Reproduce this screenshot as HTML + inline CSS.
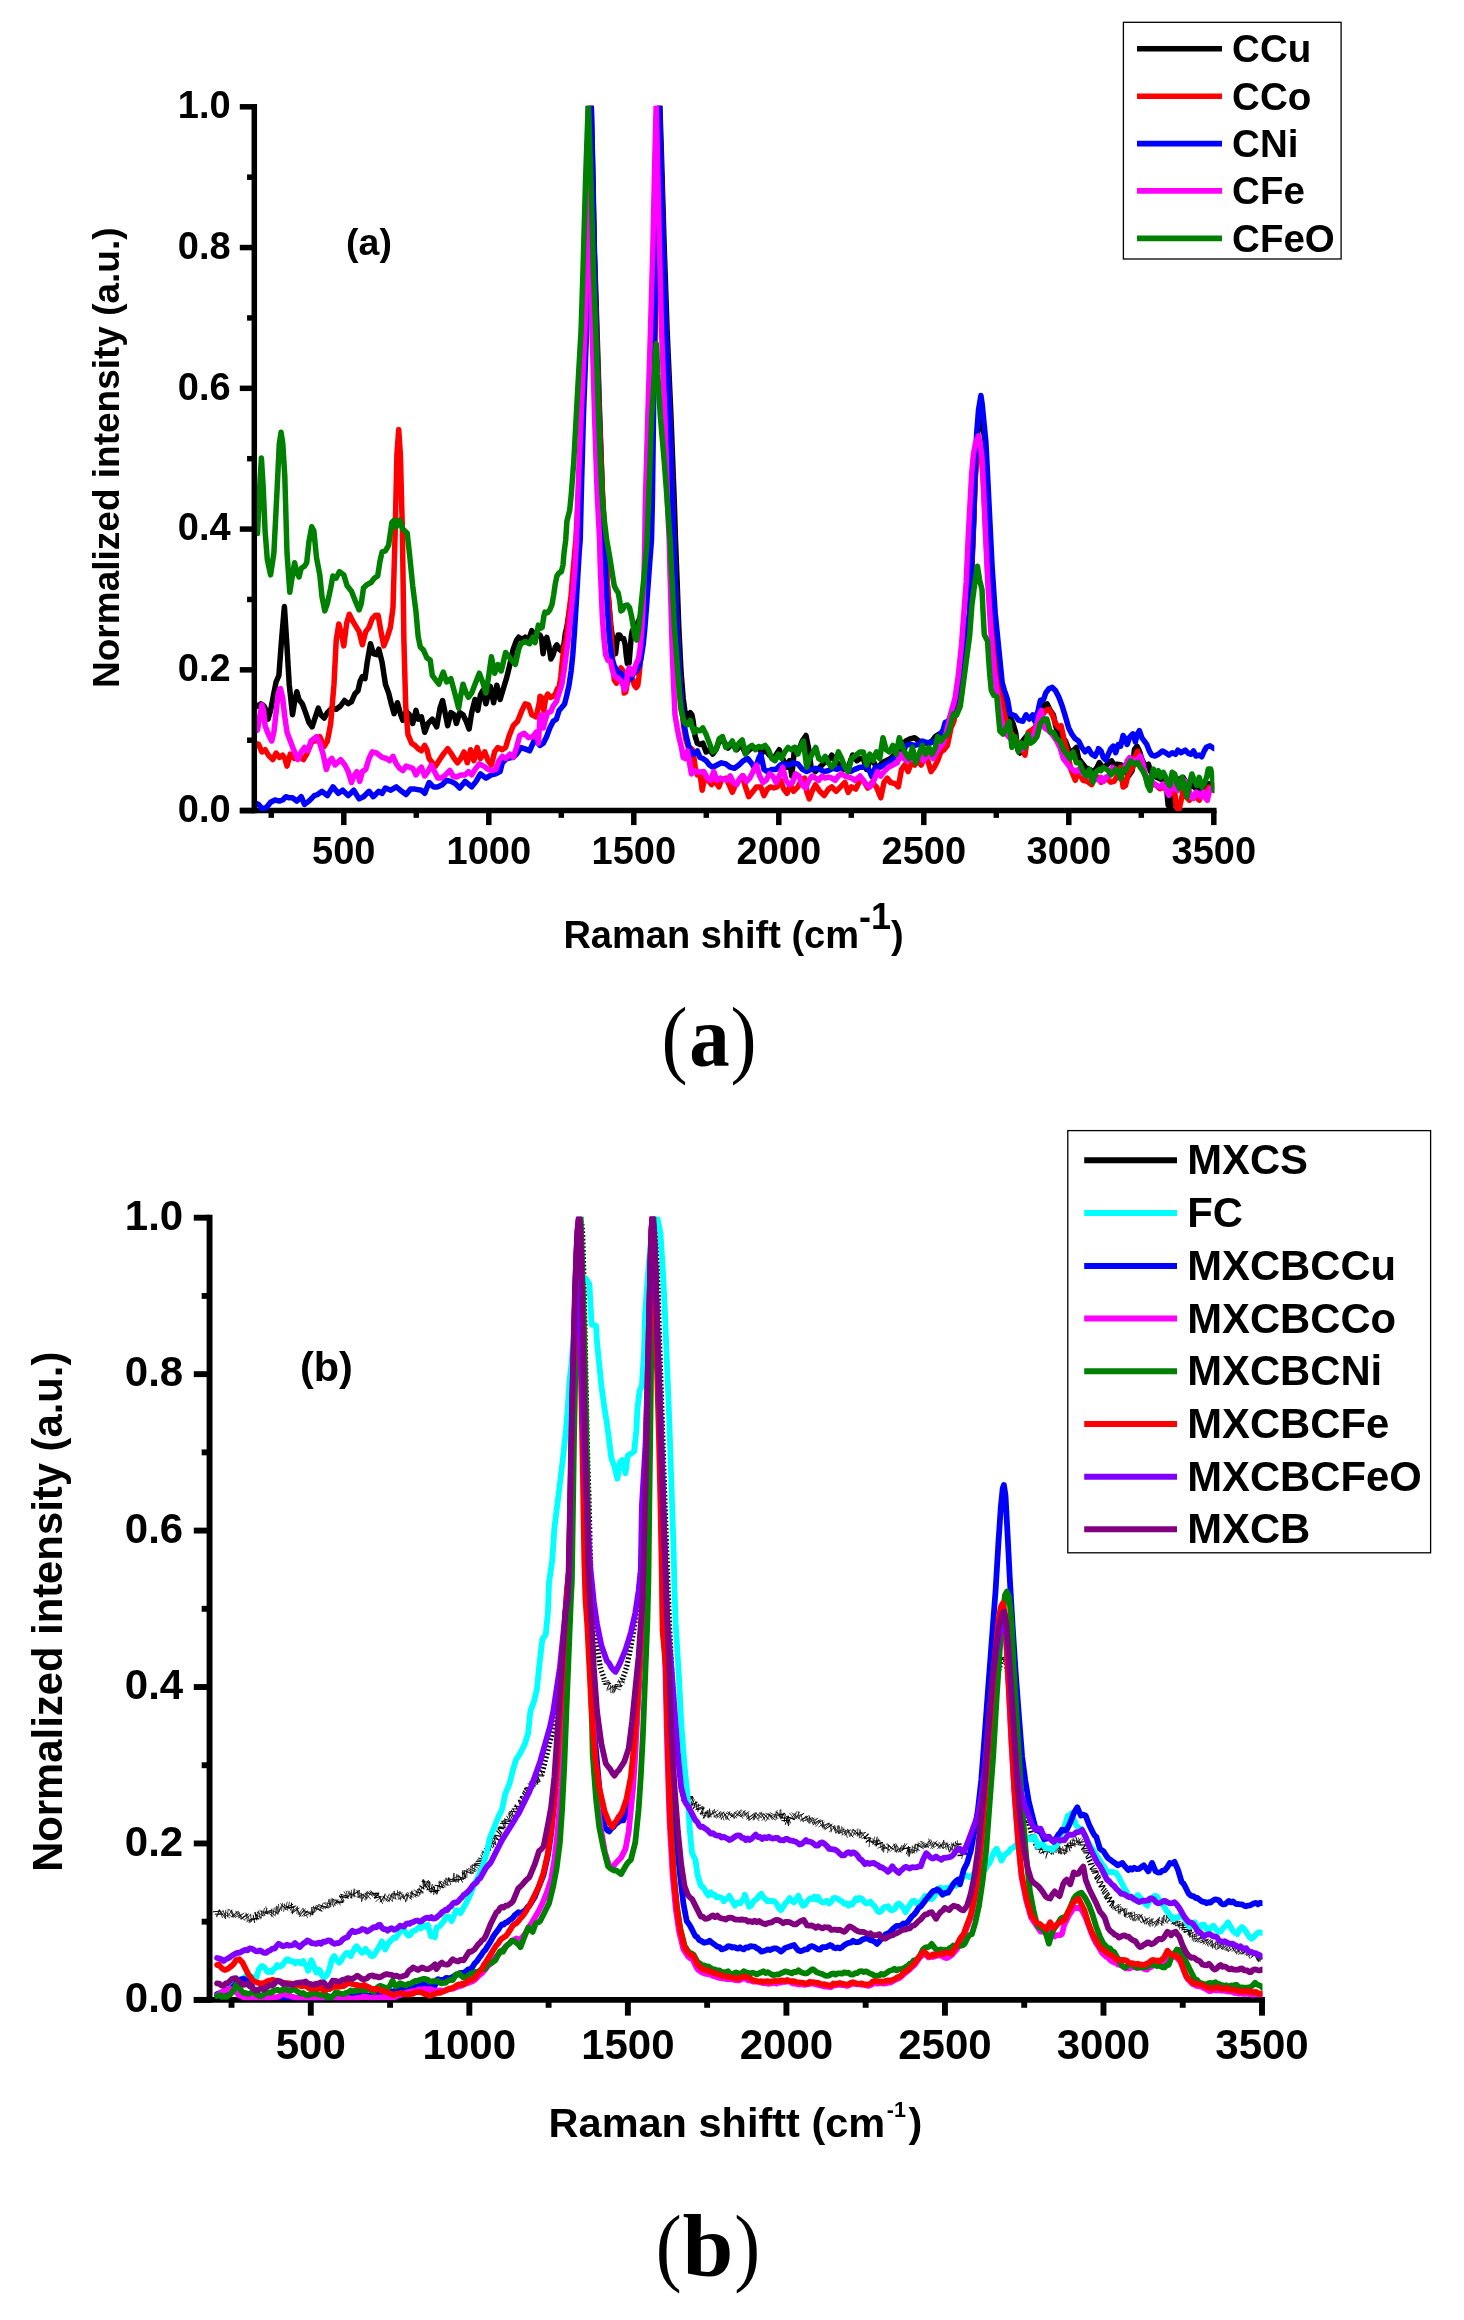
<!DOCTYPE html>
<html><head><meta charset="utf-8"><title>Raman spectra</title><style>html,body{margin:0;padding:0;background:#fff;}body{width:1464px;height:2320px;overflow:hidden;font-family:"Liberation Sans",sans-serif;}svg{display:block;will-change:transform;}</style>
</head><body>
<svg width="1464" height="2320" viewBox="0 0 1464 2320">
<rect width="1464" height="2320" fill="#fff"/>
<line x1="239.80" y1="810.6" x2="1216.55" y2="810.6" stroke="#000" stroke-width="5.5"/>
<line x1="271.30" y1="810.6" x2="271.30" y2="817.85" stroke="#000" stroke-width="5.5"/>
<line x1="343.80" y1="810.6" x2="343.80" y2="825.10" stroke="#000" stroke-width="5.5"/>
<text x="343.80" y="864.25" font-size="38" text-anchor="middle" font-family="Liberation Sans, sans-serif" font-weight="bold">500</text>
<line x1="416.30" y1="810.6" x2="416.30" y2="817.85" stroke="#000" stroke-width="5.5"/>
<line x1="488.80" y1="810.6" x2="488.80" y2="825.10" stroke="#000" stroke-width="5.5"/>
<text x="488.80" y="864.25" font-size="38" text-anchor="middle" font-family="Liberation Sans, sans-serif" font-weight="bold">1000</text>
<line x1="561.30" y1="810.6" x2="561.30" y2="817.85" stroke="#000" stroke-width="5.5"/>
<line x1="633.80" y1="810.6" x2="633.80" y2="825.10" stroke="#000" stroke-width="5.5"/>
<text x="633.80" y="864.25" font-size="38" text-anchor="middle" font-family="Liberation Sans, sans-serif" font-weight="bold">1500</text>
<line x1="706.30" y1="810.6" x2="706.30" y2="817.85" stroke="#000" stroke-width="5.5"/>
<line x1="778.80" y1="810.6" x2="778.80" y2="825.10" stroke="#000" stroke-width="5.5"/>
<text x="778.80" y="864.25" font-size="38" text-anchor="middle" font-family="Liberation Sans, sans-serif" font-weight="bold">2000</text>
<line x1="851.30" y1="810.6" x2="851.30" y2="817.85" stroke="#000" stroke-width="5.5"/>
<line x1="923.80" y1="810.6" x2="923.80" y2="825.10" stroke="#000" stroke-width="5.5"/>
<text x="923.80" y="864.25" font-size="38" text-anchor="middle" font-family="Liberation Sans, sans-serif" font-weight="bold">2500</text>
<line x1="996.30" y1="810.6" x2="996.30" y2="817.85" stroke="#000" stroke-width="5.5"/>
<line x1="1068.80" y1="810.6" x2="1068.80" y2="825.10" stroke="#000" stroke-width="5.5"/>
<text x="1068.80" y="864.25" font-size="38" text-anchor="middle" font-family="Liberation Sans, sans-serif" font-weight="bold">3000</text>
<line x1="1141.30" y1="810.6" x2="1141.30" y2="817.85" stroke="#000" stroke-width="5.5"/>
<line x1="1213.80" y1="810.6" x2="1213.80" y2="825.10" stroke="#000" stroke-width="5.5"/>
<text x="1213.80" y="864.25" font-size="38" text-anchor="middle" font-family="Liberation Sans, sans-serif" font-weight="bold">3500</text>
<clipPath id="aclip"><rect x="254.3" y="105.8" width="960.00" height="705.10"/></clipPath>
<g clip-path="url(#aclip)" fill="none" stroke-linejoin="round" stroke-linecap="round">
<polyline points="253.6,708.2 257.5,706.0 260.8,703.8 264.0,706.0 265.1,708.2 268.0,719.1 270.6,710.4 273.9,692.9 276.1,682.0 278.9,675.4 281.5,640.4 284.4,606.6 286.6,640.4 289.2,684.2 292.5,714.8 294.6,701.6 296.8,691.8 299.0,699.5 302.3,703.8 305.6,712.6 308.9,722.4 312.1,726.8 315.4,716.9 318.3,708.2 320.9,714.8 324.2,718.0 327.4,712.6 331.8,708.2 336.2,709.3 340.5,706.0 344.5,700.5 348.2,703.8 351.5,701.6 354.8,694.0 358.0,690.7 360.2,680.9 362.4,676.5 365.0,678.7 367.2,662.3 370.5,643.7 373.3,653.6 376.6,654.6 378.8,649.2 382.1,662.3 385.4,684.2 388.6,692.9 391.3,703.8 394.1,713.7 397.4,702.7 400.7,714.8 402.8,720.2 406.1,711.5 409.4,714.8 412.7,723.5 416.0,710.4 418.1,719.1 421.4,716.9 424.7,732.2 428.0,723.5 432.3,719.1 436.7,726.8 440.0,708.2 442.6,700.5 445.5,714.8 447.7,725.7 450.9,712.6 454.2,714.8 456.4,723.5 459.7,712.6 463.0,714.8 466.2,721.3 469.1,729.0 471.7,712.6 475.0,699.5 477.8,710.4 480.4,695.1 482.6,690.7 485.9,703.8 490.3,686.3 493.6,702.7 496.8,685.2 500.1,699.5 503.4,688.5 506.7,677.6 509.9,664.5 513.2,649.2 516.5,640.4 518.7,637.2 522.0,639.3 525.2,637.2 528.5,640.4 531.8,630.6 535.1,636.1 538.4,635.0 540.0,635.1 541.6,638.4 543.1,653.7 544.9,640.5 546.8,637.3 548.7,644.9 550.9,659.1 553.1,654.8 555.3,647.1 556.9,644.9 559.1,649.3 560.8,650.4 562.4,648.2 564.0,643.8 565.4,632.9 566.8,627.4 568.8,615.0 571.3,600.0 574.0,580.0 577.0,550.0 579.5,494.0 582.2,417.0 585.8,330.0 588.0,250.0 589.8,160.0 591.2,103.0 592.6,160.0 594.4,250.0 597.0,330.0 599.7,417.0 602.5,494.0 604.9,540.0 607.2,583.7 611.0,627.4 614.9,653.7 615.6,653.7 616.5,644.9 618.1,635.1 619.8,635.1 621.4,638.4 623.6,638.4 625.2,644.9 626.3,655.8 627.4,663.5 629.1,663.0 630.2,649.3 631.3,636.2 632.3,630.7 636.0,626.0 640.0,618.0 643.0,604.0 645.5,584.0 647.5,562.0 649.5,540.0 651.0,500.0 653.0,417.0 655.0,330.0 657.2,250.0 658.8,160.0 659.8,103.0 661.6,160.0 664.3,250.0 667.1,330.0 671.0,417.0 674.4,505.0 675.5,540.0 677.2,583.7 678.8,627.4 681.0,671.1 683.2,698.5 685.4,714.9 687.0,719.2 688.6,714.9 690.3,712.7 691.9,714.9 693.0,720.3 695.2,736.7 697.4,743.3 700.0,744.4 702.8,743.2 706.1,751.9 709.4,749.7 712.7,754.1 716.0,749.7 719.2,741.0 723.6,741.0 728.0,748.0 732.3,743.6 736.7,749.7 741.1,744.3 745.5,753.7 749.8,749.3 754.2,747.5 758.6,748.0 761.9,753.0 765.1,749.7 769.5,755.2 773.9,758.5 777.2,753.0 779.3,749.7 782.6,758.5 787.0,767.2 789.6,760.7 791.8,776.0 794.6,747.5 799.0,749.7 802.3,741.0 806.0,735.5 808.9,749.7 811.0,767.2 815.4,771.6 819.8,767.2 824.2,762.8 828.5,760.7 831.8,755.2 835.1,760.7 839.5,765.0 843.8,769.4 848.2,767.2 852.6,755.2 856.9,760.7 860.0,758.5 863.3,758.5 866.6,769.4 870.9,758.5 874.2,762.8 877.5,769.4 881.9,762.8 886.2,760.7 890.6,758.5 895.0,754.1 899.3,749.7 902.6,745.4 905.9,741.0 910.3,738.8 914.6,737.7 919.0,741.0 923.4,743.2 927.8,743.2 932.1,741.0 935.4,736.6 938.7,734.4 943.1,732.2 947.4,723.5 951.5,715.0 955.4,702.0 958.7,686.0 961.9,668.0 964.8,648.0 967.3,630.0 969.9,612.9 971.9,566.3 973.8,519.8 975.3,473.2 977.0,440.0 979.3,416.0 981.0,406.0 982.6,424.0 985.1,442.1 986.7,473.2 989.0,519.8 991.3,566.3 994.4,612.9 998.3,651.7 1001.4,682.8 1003.7,692.0 1006.8,703.0 1009.5,716.0 1013.0,723.5 1015.6,732.2 1017.8,749.7 1020.0,753.0 1022.8,741.0 1026.1,736.6 1030.5,732.2 1034.9,727.9 1038.1,721.3 1041.0,710.4 1044.0,704.9 1047.1,703.8 1050.2,710.4 1053.4,714.8 1055.6,725.7 1057.8,732.2 1061.1,736.6 1065.5,741.0 1068.7,749.7 1072.0,751.9 1076.4,747.5 1078.6,758.5 1081.9,762.8 1085.1,767.2 1089.5,769.4 1093.9,771.6 1097.2,767.2 1099.3,762.5 1102.6,767.4 1105.9,765.8 1109.1,762.5 1111.6,760.9 1114.1,765.0 1117.3,764.2 1121.4,765.0 1124.7,770.7 1128.8,775.6 1132.1,770.7 1134.5,749.4 1137.0,746.1 1139.4,751.0 1141.9,759.2 1145.2,765.8 1148.5,764.2 1150.1,770.7 1153.4,775.6 1156.6,777.3 1159.9,778.9 1163.2,780.5 1166.2,783.8 1168.1,805.1 1170.6,808.4 1172.2,800.2 1173.4,787.1 1176.3,782.2 1179.6,778.9 1182.9,777.3 1186.1,782.2 1189.4,787.1 1192.7,785.5 1196.0,788.7 1199.2,790.4 1202.5,787.1 1205.8,785.5 1209.1,783.8 1214.0,785.5" stroke="#000000" stroke-width="5.5" />
<polyline points="253.6,743.2 258.6,744.3 261.9,751.9 265.1,749.7 268.4,755.2 272.8,759.6 276.1,753.0 279.3,757.4 282.6,755.2 284.8,758.5 287.0,766.1 290.3,754.1 294.6,758.5 299.0,756.3 303.4,759.6 306.7,754.1 312.1,741.0 315.4,741.0 319.8,736.6 324.2,746.4 327.4,741.0 330.7,723.5 334.0,684.2 336.2,640.4 338.8,624.0 341.0,631.7 343.8,645.9 346.7,623.0 349.3,614.2 352.6,620.8 355.8,626.2 359.1,631.7 362.4,644.8 365.7,631.7 369.0,627.3 372.2,618.6 375.5,615.3 378.1,615.3 381.0,631.7 383.8,645.9 386.9,638.3 390.4,627.3 393.0,607.7 395.2,531.1 396.9,454.6 398.7,429.5 400.4,454.6 402.4,531.1 403.9,640.4 405.7,706.0 407.9,734.4 411.6,743.2 414.9,745.4 418.1,748.6 421.4,750.8 424.7,745.4 426.9,749.7 429.1,758.5 432.3,762.8 435.6,766.1 438.9,760.7 443.3,754.1 447.7,748.6 450.9,753.0 454.2,758.5 457.5,762.8 460.8,758.5 464.0,751.9 467.3,762.8 470.6,749.7 473.9,760.7 477.2,747.5 480.4,758.5 484.8,751.9 488.1,760.7 491.4,765.0 494.6,751.9 497.9,747.5 502.3,749.7 505.6,747.5 508.9,736.6 513.2,725.7 517.6,721.3 522.0,710.4 525.2,703.8 528.5,704.9 531.8,714.8 536.2,716.9 539.5,701.6 540.0,696.3 541.6,697.4 543.8,710.5 545.5,699.6 547.7,694.1 550.4,697.4 553.1,696.3 555.3,694.1 557.5,688.6 559.1,687.5 560.8,676.6 562.4,660.2 564.0,647.1 565.7,642.7 567.2,630.0 569.0,612.0 571.0,596.0 573.2,570.0 575.8,540.0 578.5,494.0 581.8,417.0 585.4,330.0 587.4,250.0 589.2,160.0 590.5,106.0 592.0,160.0 593.9,250.0 596.6,330.0 599.5,417.0 602.4,494.0 605.0,540.0 607.4,583.7 609.8,616.5 611.6,640.0 613.0,668.0 614.3,679.9 616.5,683.2 618.7,674.4 620.9,667.9 623.1,671.1 624.2,693.0 625.8,691.9 627.4,682.1 630.0,678.0 632.9,679.9 634.5,685.4 636.2,687.5 637.8,685.4 638.9,676.6 640.0,665.7 642.0,645.0 644.0,622.0 646.0,598.0 647.6,570.0 649.3,540.0 650.8,500.0 652.7,417.0 654.7,330.0 656.8,250.0 658.3,160.0 659.3,106.0 660.9,160.0 663.4,250.0 666.0,330.0 669.7,417.0 672.8,505.0 673.9,540.0 675.0,572.8 676.6,616.5 678.3,649.3 679.9,682.1 681.8,709.0 683.8,727.0 686.0,740.0 688.5,748.0 690.5,748.0 692.5,749.8 694.1,758.6 695.2,767.3 697.4,775.0 700.0,774.0 702.2,790.2 705.0,776.0 708.3,780.3 711.6,784.7 714.9,780.3 718.8,786.9 721.4,780.3 725.8,778.1 729.1,784.7 732.3,792.3 735.6,784.7 738.9,780.3 742.2,776.0 745.5,786.9 748.7,796.7 753.1,791.3 756.4,786.9 760.8,786.9 764.0,795.6 767.3,789.1 770.6,786.9 773.9,788.0 777.2,786.9 780.4,780.3 783.7,789.1 787.0,793.4 790.3,784.7 793.6,791.3 797.9,786.9 801.2,780.3 804.5,778.1 806.7,791.3 809.3,798.9 812.1,791.3 815.4,784.7 819.8,791.3 824.2,795.6 828.5,789.1 831.8,786.9 836.2,791.3 840.5,786.9 844.9,782.5 848.2,792.3 851.5,786.9 855.8,789.1 860.0,780.3 863.3,780.3 867.7,788.0 872.0,782.5 876.4,786.9 880.8,797.8 884.0,782.5 887.3,778.1 890.6,782.5 895.0,783.6 898.3,786.9 901.5,769.4 904.8,765.0 908.1,771.6 911.4,762.8 914.6,765.0 917.9,760.7 921.2,765.0 924.5,758.5 927.8,760.7 931.0,771.6 934.3,767.2 937.6,760.7 940.9,751.9 944.2,749.7 947.4,745.4 951.0,728.0 954.0,721.0 956.2,705.0 958.8,688.0 961.9,670.0 964.8,650.0 967.3,630.0 969.8,612.9 971.8,566.3 973.7,519.8 975.2,480.0 977.2,455.0 980.0,446.0 982.0,460.0 983.8,490.0 985.9,535.3 988.2,581.9 991.5,628.4 995.5,667.3 999.7,690.6 1001.7,700.0 1004.0,713.0 1006.5,722.0 1009.0,728.0 1010.8,732.2 1015.2,738.8 1019.6,745.4 1022.8,749.7 1025.0,755.2 1028.3,732.2 1031.6,730.1 1034.9,727.9 1039.2,721.3 1042.5,714.8 1045.8,710.4 1049.1,709.3 1052.3,714.8 1055.6,723.5 1058.9,727.9 1061.1,725.7 1064.4,741.0 1067.7,754.1 1070.9,769.4 1075.3,780.3 1078.6,771.6 1083.0,780.3 1087.3,781.4 1091.7,784.7 1095.0,776.0 1098.3,778.1 1098.5,777.3 1101.0,782.2 1104.2,780.5 1107.5,778.9 1110.8,782.2 1114.1,781.4 1117.3,775.6 1120.6,767.4 1123.1,787.1 1125.5,785.5 1128.0,775.6 1130.4,770.7 1132.9,767.4 1135.4,756.0 1137.8,751.0 1140.3,762.5 1142.7,767.4 1145.2,775.6 1147.6,782.2 1150.1,787.1 1153.4,783.8 1156.6,785.5 1159.9,788.7 1163.2,787.1 1166.5,790.4 1169.8,793.6 1173.0,792.0 1174.7,792.0 1176.3,806.7 1178.8,810.8 1181.2,800.2 1182.9,792.0 1186.1,796.9 1189.4,800.2 1192.7,795.3 1196.0,796.9 1199.2,800.2 1202.5,793.6 1205.8,792.0 1209.1,787.1 1214.0,790.4" stroke="#ff0000" stroke-width="5.5" />
<polyline points="253.6,802.2 258.6,804.4 261.9,808.7 266.2,807.7 270.6,802.2 275.0,800.0 279.3,801.1 282.6,800.0 285.9,796.7 289.2,797.8 292.5,797.8 296.8,801.1 301.2,796.7 304.5,804.4 308.9,801.1 314.3,795.6 317.6,794.5 322.0,791.3 327.4,795.6 332.9,786.9 338.4,793.4 342.7,790.2 348.2,795.6 353.7,790.2 359.1,798.9 363.5,796.7 369.0,791.3 373.3,796.7 378.8,791.3 382.1,793.4 385.4,788.0 390.8,790.2 396.3,786.9 401.7,791.3 406.1,794.5 410.5,789.1 414.9,789.1 421.4,790.2 424.7,793.4 429.1,782.5 433.4,786.9 437.8,786.9 442.2,784.7 446.6,780.3 450.9,781.4 455.3,783.6 459.7,788.0 465.1,781.4 471.7,786.9 476.1,781.4 480.4,773.8 485.9,778.1 491.4,774.9 495.7,773.8 500.1,771.6 502.3,762.8 506.7,758.5 513.2,757.4 516.5,754.1 520.9,747.5 524.2,748.6 529.6,750.8 534.0,741.0 537.3,742.1 540.0,745.5 543.3,743.3 546.6,736.7 549.8,728.0 553.1,721.4 556.4,719.2 559.1,710.5 561.9,707.2 564.6,703.9 566.8,695.2 569.0,685.4 571.1,671.1 572.8,654.8 574.4,632.9 576.1,605.6 577.7,578.3 579.3,550.9 580.2,540.0 581.3,494.0 583.4,417.0 586.6,330.0 588.2,250.0 589.8,170.0 591.2,103.0 592.6,170.0 594.2,250.0 596.3,330.0 598.8,417.0 601.5,494.0 604.0,540.0 605.6,572.8 607.2,605.6 609.4,638.4 611.6,658.0 614.3,665.7 616.5,670.1 618.7,672.2 620.9,673.3 623.1,676.6 625.2,678.8 630.7,678.8 632.9,674.4 636.2,671.1 638.9,666.8 641.1,658.0 643.3,643.8 644.9,627.4 646.6,605.6 648.2,583.7 649.8,561.9 651.5,540.0 652.4,500.0 653.5,417.0 654.4,330.0 656.6,250.0 658.2,160.0 659.3,103.0 661.0,160.0 663.5,250.0 666.0,330.0 669.8,417.0 672.8,505.0 673.9,540.0 675.0,572.8 676.6,616.5 678.3,649.3 679.9,682.1 682.1,709.4 684.3,725.8 686.4,736.7 688.6,745.5 690.8,750.9 693.0,754.2 695.2,753.1 697.4,750.9 700.0,757.5 702.8,758.5 706.1,760.7 709.4,765.0 712.7,767.2 717.0,765.0 721.4,762.8 725.8,763.9 730.2,767.2 734.5,768.3 738.9,765.0 743.3,760.7 747.7,758.5 752.0,763.9 755.3,769.4 758.6,758.5 760.8,754.1 764.0,769.4 767.3,771.6 771.7,769.4 776.1,769.4 780.4,765.0 784.8,763.9 789.2,765.0 793.6,762.8 797.9,763.9 802.3,769.4 806.7,771.6 811.0,769.4 815.4,768.3 819.8,769.4 824.2,771.6 828.5,770.5 832.9,768.3 837.3,769.4 841.6,767.2 846.0,769.4 850.4,771.6 854.8,769.4 860.0,767.2 863.3,767.2 866.6,765.0 869.8,771.6 872.0,777.0 875.3,767.2 879.7,767.2 884.0,765.0 888.4,762.8 892.8,758.5 896.1,756.3 899.3,758.5 902.6,754.1 905.9,745.4 910.3,744.3 914.6,745.4 919.0,744.3 922.3,741.0 925.6,742.1 929.9,743.2 934.3,741.0 938.7,736.6 943.1,730.1 945.2,722.4 948.5,721.3 951.8,712.6 955.1,701.6 958.4,686.0 961.6,668.0 964.5,648.0 967.0,630.0 969.6,612.9 971.6,566.3 973.5,519.8 975.0,473.2 976.6,434.3 978.5,410.0 980.9,395.5 982.3,405.0 983.6,418.8 985.9,442.1 987.5,473.2 989.8,519.8 992.1,566.3 995.2,612.9 999.1,651.7 1002.2,682.8 1004.5,690.6 1007.6,699.9 1010.0,713.9 1015.2,715.8 1018.5,720.2 1022.8,721.3 1026.1,714.8 1029.4,719.1 1032.7,714.8 1034.9,721.3 1038.1,710.4 1040.3,700.5 1043.6,699.5 1045.8,692.9 1049.1,688.5 1052.3,687.4 1055.6,690.7 1058.9,697.3 1062.2,706.0 1065.5,716.9 1068.7,727.9 1072.0,734.4 1075.3,738.8 1078.6,741.0 1081.9,747.5 1085.1,751.9 1088.4,748.6 1091.7,754.1 1095.0,756.3 1098.3,749.7 1098.5,748.6 1101.0,751.0 1103.4,757.6 1105.9,760.1 1108.3,754.3 1110.8,748.6 1113.2,746.1 1115.7,752.7 1118.2,744.5 1120.6,746.1 1123.1,735.5 1125.5,739.6 1127.2,744.5 1129.6,737.1 1132.9,733.8 1135.4,742.0 1137.0,734.7 1139.4,730.6 1141.9,737.9 1144.4,741.2 1146.8,744.5 1149.3,751.0 1151.7,755.1 1155.0,756.0 1158.3,754.3 1162.4,751.0 1165.7,752.7 1168.9,755.1 1172.2,752.7 1175.5,754.3 1177.9,750.2 1181.2,752.7 1185.3,750.2 1188.6,753.5 1191.0,754.3 1193.5,751.0 1196.0,756.0 1199.2,755.1 1201.7,756.8 1204.2,751.0 1206.6,747.0 1209.9,745.8 1214.0,748.6" stroke="#0000ff" stroke-width="5.5" />
<polyline points="253.6,732.2 257.5,730.1 259.7,716.9 261.9,704.9 263.6,710.4 265.1,725.7 268.4,734.4 271.7,741.0 273.9,732.2 276.1,712.6 278.3,692.9 280.4,688.5 282.6,697.3 284.8,716.9 287.0,732.2 290.3,741.0 293.6,749.7 297.9,759.6 301.2,751.9 304.5,747.5 307.8,750.8 311.0,741.0 316.5,736.6 319.8,743.2 323.1,754.1 326.3,769.4 329.6,760.7 331.8,758.5 335.1,765.0 340.5,759.6 344.9,765.0 348.2,771.6 351.5,782.5 353.7,776.0 356.9,771.6 359.8,781.4 362.4,771.6 365.7,769.4 369.0,758.5 372.2,751.9 376.6,753.0 382.1,757.4 386.4,758.5 389.7,760.7 393.0,756.3 396.3,763.9 399.6,768.3 402.8,770.5 406.1,766.1 409.4,767.2 412.7,768.3 416.0,774.9 419.2,769.4 421.4,767.2 424.7,776.0 428.0,771.6 431.3,765.0 434.5,771.6 437.8,778.1 441.1,778.1 445.5,774.9 449.8,770.5 453.1,776.0 456.4,777.0 460.8,774.9 465.1,774.9 468.4,771.6 471.7,774.9 475.0,769.4 479.3,763.9 483.7,766.1 488.1,769.4 492.5,770.5 495.7,769.4 499.0,760.7 502.3,756.3 505.6,758.5 509.9,754.1 513.2,757.4 516.5,747.5 519.8,735.5 524.2,733.3 528.5,737.7 532.9,736.6 536.2,732.2 538.4,743.2 540.0,717.0 541.6,714.9 543.3,728.0 545.5,719.2 547.7,712.7 550.9,711.6 553.1,706.1 556.4,701.7 559.1,693.0 561.9,684.3 564.0,671.1 566.2,654.8 568.4,638.4 570.6,616.5 572.8,594.6 575.0,567.3 576.6,540.0 577.9,494.0 581.1,417.0 585.0,330.0 586.5,250.0 587.6,160.0 588.3,103.0 589.0,160.0 590.2,250.0 592.1,330.0 594.6,417.0 597.2,494.0 599.6,540.0 600.1,561.9 601.2,589.2 602.3,616.5 603.9,638.4 605.6,654.8 607.8,660.2 610.5,661.3 612.1,669.0 614.3,675.5 616.5,677.7 618.7,678.8 620.9,681.0 623.1,685.4 624.7,689.7 626.3,685.4 627.4,673.3 629.1,667.9 630.7,669.0 632.3,674.4 634.0,671.1 636.2,663.5 638.4,659.1 640.0,649.3 641.6,632.9 642.8,611.0 643.6,589.2 644.2,567.3 644.8,540.0 645.3,505.0 647.8,417.4 650.5,330.0 652.8,250.0 654.8,160.0 656.2,103.0 657.5,160.0 659.5,250.0 661.5,330.0 664.9,417.0 667.5,505.0 669.2,540.0 670.0,572.8 671.0,605.6 672.2,649.3 673.5,682.1 675.0,714.9 677.2,728.0 679.3,738.9 681.5,747.7 683.2,757.5 685.4,758.6 687.5,750.9 689.7,764.0 691.4,773.9 694.1,770.6 696.3,771.7 700.0,772.0 703.9,771.6 707.2,778.1 710.5,780.3 713.8,771.6 717.0,780.3 720.3,778.1 723.6,779.2 726.9,780.3 730.2,776.0 733.4,782.5 736.7,784.7 740.0,778.1 743.3,776.0 746.6,781.4 749.8,778.1 753.1,771.6 756.4,765.0 759.7,776.0 763.0,782.5 766.2,780.3 769.5,773.8 772.8,776.0 776.1,782.5 779.3,776.0 782.6,767.2 785.9,780.3 789.2,784.7 792.5,782.5 795.7,773.8 799.0,776.0 802.3,784.7 805.6,788.0 808.9,780.3 812.1,776.0 815.4,778.1 818.7,780.3 822.0,776.0 825.2,778.1 828.5,777.0 831.8,778.1 835.1,780.3 838.4,776.0 841.6,773.8 844.9,776.0 848.2,777.0 851.5,778.1 854.8,780.3 860.0,776.0 863.3,780.3 866.6,784.7 869.8,786.9 873.1,782.5 877.5,771.6 880.8,776.0 884.0,771.6 888.4,767.2 892.8,765.0 897.2,762.8 900.4,754.1 903.7,758.5 907.0,760.7 911.4,758.5 915.7,760.7 920.1,754.1 923.4,760.7 926.7,756.3 929.9,754.1 933.2,758.5 936.5,751.9 939.8,747.5 943.1,743.2 946.3,732.2 949.6,719.1 950.6,713.9 955.0,698.3 958.4,675.0 961.6,644.0 963.9,612.9 966.2,581.9 968.3,535.3 970.0,504.2 971.7,473.2 973.4,454.5 975.5,443.0 978.4,435.9 980.3,444.0 982.0,457.6 983.6,488.7 985.6,535.3 987.8,581.9 990.6,628.4 993.7,667.3 996.8,690.6 999.0,705.0 1001.0,718.0 1004.3,732.2 1008.6,736.6 1013.0,741.0 1017.4,747.5 1021.7,749.7 1026.1,743.2 1030.5,741.0 1034.9,732.2 1039.2,714.8 1041.4,710.4 1044.7,727.9 1048.0,730.1 1052.3,734.4 1056.7,741.0 1060.0,747.5 1063.3,758.5 1066.6,762.8 1069.8,767.2 1075.3,771.6 1078.6,769.4 1083.0,773.8 1087.3,776.0 1091.7,778.1 1096.1,779.2 1099.3,780.3 1101.0,777.3 1103.4,781.4 1105.9,777.3 1109.1,775.6 1112.4,767.4 1115.7,769.1 1119.0,772.3 1122.2,770.7 1124.7,767.4 1127.2,760.9 1129.6,757.6 1132.1,759.2 1135.4,760.9 1137.8,759.2 1140.3,756.0 1142.7,762.5 1145.2,775.6 1147.6,777.3 1150.9,780.5 1154.2,783.8 1156.6,785.5 1159.9,787.1 1163.2,783.8 1166.5,790.4 1168.9,795.3 1171.4,783.8 1174.7,788.7 1177.9,790.4 1181.2,783.8 1184.5,780.5 1187.0,783.8 1191.0,796.9 1193.5,798.6 1196.0,792.0 1198.4,793.6 1200.9,796.9 1203.3,792.0 1205.8,798.6 1207.4,800.2 1209.9,788.7 1214.0,788.7" stroke="#ff00ff" stroke-width="5.5" />
<polyline points="253.6,533.3 257.5,533.3 259.7,487.4 261.4,457.9 263.2,487.4 265.1,531.1 267.3,559.6 270.6,574.9 273.9,553.0 277.2,487.4 279.3,443.7 281.1,432.3 282.8,443.7 284.8,476.5 287.0,553.0 289.8,592.3 292.5,574.9 294.6,562.8 296.8,572.7 299.0,577.0 301.2,568.3 304.5,566.1 306.7,562.8 308.9,542.1 311.7,526.8 313.9,531.1 316.5,557.4 319.8,574.9 322.0,596.7 324.8,610.9 327.4,603.3 330.7,588.0 332.9,576.0 336.2,578.1 339.5,571.6 343.8,574.9 347.1,585.8 351.5,591.3 355.8,602.2 359.1,609.8 361.3,603.3 363.5,588.0 366.8,584.7 371.1,582.5 374.4,578.1 377.7,576.0 379.9,561.7 382.1,551.9 385.4,550.8 388.6,545.4 391.9,522.4 394.1,520.2 396.3,526.8 399.6,520.2 402.8,529.0 407.2,533.3 409.4,553.0 412.7,585.8 416.0,612.0 418.1,636.1 420.3,647.0 423.6,650.3 426.9,657.9 430.2,660.1 432.3,675.4 435.6,679.8 438.9,684.2 441.1,677.6 443.3,672.1 446.6,682.0 450.9,678.7 455.3,695.1 458.6,708.2 460.8,695.1 463.0,684.2 466.2,692.9 468.4,697.3 471.7,692.9 475.0,684.2 479.3,673.2 482.6,682.0 485.9,692.9 488.1,679.8 491.4,656.8 494.6,673.2 497.9,664.5 501.2,671.0 505.6,652.5 509.9,657.9 515.4,664.5 518.7,649.2 520.9,643.7 525.2,641.5 529.6,643.7 532.9,637.2 535.1,642.6 538.4,625.1 540.0,628.5 542.2,627.4 543.8,616.5 544.9,612.1 547.7,612.7 549.8,609.9 552.0,604.5 553.7,594.6 555.3,583.7 556.9,576.1 559.1,572.8 561.3,571.7 563.0,565.1 564.0,553.1 565.7,540.0 566.9,521.3 569.7,510.3 571.3,493.9 573.8,461.1 576.2,417.4 578.6,373.7 581.1,330.0 583.0,270.0 585.5,182.0 587.3,130.0 588.3,103.0 589.3,130.0 591.0,182.0 593.4,270.0 595.7,330.0 597.2,373.7 598.6,417.4 600.3,461.1 601.9,493.9 603.8,515.8 606.7,540.0 608.3,548.7 610.5,561.9 612.7,576.1 614.3,585.9 616.5,590.3 618.1,592.5 619.8,601.2 620.9,611.0 622.5,609.9 624.7,605.6 627.4,605.0 629.6,607.8 631.6,616.5 633.4,627.4 635.1,637.3 636.7,640.0 638.4,630.7 640.0,616.5 641.6,600.1 643.3,583.7 644.9,567.3 646.8,545.0 648.4,505.0 650.0,461.0 651.6,417.4 654.4,373.7 655.5,352.0 656.2,343.5 656.9,352.0 657.7,373.7 660.4,417.4 664.2,461.1 667.5,504.9 670.1,540.0 671.1,561.9 672.2,583.7 673.3,605.6 674.4,627.4 676.1,649.3 677.7,671.1 679.3,693.0 681.0,709.4 683.2,719.2 685.4,723.6 687.5,724.7 690.3,720.3 692.5,728.0 694.1,732.3 695.7,729.1 697.9,730.2 700.0,730.7 702.8,727.9 706.1,734.4 709.4,743.2 712.7,751.9 716.0,749.7 719.2,738.8 722.5,736.6 725.8,747.5 729.1,745.4 732.3,741.0 735.6,749.7 738.9,743.2 742.2,739.9 745.5,754.1 748.7,747.5 752.0,745.4 755.3,749.7 758.6,746.4 761.9,747.5 765.1,745.4 768.4,749.7 771.7,758.5 775.0,760.7 778.3,754.1 781.5,758.5 784.8,751.9 788.1,747.5 791.4,749.7 794.6,747.5 797.9,754.1 801.2,745.4 803.4,741.0 806.7,767.2 809.9,758.5 813.2,751.9 815.8,747.5 818.7,758.5 822.0,760.7 825.2,756.3 828.5,762.8 831.8,767.2 835.1,762.8 838.4,751.9 841.6,758.5 844.9,767.2 848.2,771.6 851.5,758.5 855.8,755.2 860.0,751.9 863.3,751.9 866.6,765.0 869.8,754.1 873.1,760.7 876.4,751.9 879.7,758.5 883.0,737.7 886.2,749.7 889.5,751.9 892.8,745.4 896.1,754.1 899.3,737.7 902.6,747.5 905.9,754.1 909.2,758.5 912.5,747.5 915.7,762.8 919.0,754.1 922.3,745.4 925.6,754.1 928.9,747.5 932.1,754.1 935.4,747.5 937.6,736.6 940.9,741.0 944.2,736.6 947.4,734.4 950.2,726.3 953.3,713.9 956.4,715.4 960.3,706.1 963.4,682.8 966.5,659.5 969.6,636.2 971.9,605.2 975.0,581.9 977.4,566.3 979.7,580.3 982.0,589.6 983.1,612.9 984.3,634.7 987.5,640.9 988.7,659.5 989.8,675.0 991.3,690.6 993.7,695.2 996.8,696.8 998.3,713.9 999.9,731.0 1003.0,734.1 1006.1,727.9 1009.2,721.7 1011.9,747.5 1015.2,736.6 1018.5,751.9 1021.7,743.2 1025.0,747.5 1027.9,734.4 1030.5,743.2 1033.8,741.0 1037.0,736.6 1040.3,723.5 1043.6,719.1 1046.9,719.1 1050.2,732.2 1053.4,732.2 1056.7,738.8 1060.0,741.0 1063.3,749.7 1066.6,754.1 1069.8,758.5 1073.1,751.9 1076.4,762.8 1079.7,762.8 1083.0,771.6 1086.2,776.0 1089.5,769.4 1092.8,782.5 1096.1,771.6 1099.3,769.4 1101.0,770.7 1103.4,767.4 1105.9,769.1 1108.3,770.7 1110.8,774.8 1113.2,772.3 1115.7,769.1 1118.2,770.7 1120.6,778.9 1123.1,769.1 1125.5,770.7 1128.0,765.8 1130.4,760.9 1132.9,762.5 1135.4,764.2 1137.8,762.5 1140.3,767.4 1142.7,770.7 1145.2,775.6 1147.6,785.5 1150.1,790.4 1151.7,775.6 1153.4,769.1 1155.8,775.6 1158.3,770.7 1160.7,777.3 1163.2,772.3 1165.7,777.3 1167.3,782.2 1169.8,785.5 1172.2,772.3 1174.7,774.0 1177.1,783.8 1179.6,788.7 1182.0,777.3 1184.5,785.5 1187.0,796.9 1189.4,783.8 1191.9,774.0 1194.3,780.5 1196.8,785.5 1199.2,777.3 1201.7,787.1 1204.2,783.8 1206.6,777.3 1208.3,769.1 1210.7,769.1 1212.3,777.3 1214.0,790.4" stroke="#008000" stroke-width="5.5" />
</g>
<line x1="254.3" y1="104.05" x2="254.3" y2="813.35" stroke="#000" stroke-width="5.5"/>
<line x1="239.80" y1="810.60" x2="254.3" y2="810.60" stroke="#000" stroke-width="5.5"/>
<text x="230.6" y="821.95" font-size="38" text-anchor="end" font-family="Liberation Sans, sans-serif" font-weight="bold">0.0</text>
<line x1="247.05" y1="740.22" x2="254.3" y2="740.22" stroke="#000" stroke-width="5.5"/>
<line x1="239.80" y1="669.84" x2="254.3" y2="669.84" stroke="#000" stroke-width="5.5"/>
<text x="230.6" y="681.19" font-size="38" text-anchor="end" font-family="Liberation Sans, sans-serif" font-weight="bold">0.2</text>
<line x1="247.05" y1="599.46" x2="254.3" y2="599.46" stroke="#000" stroke-width="5.5"/>
<line x1="239.80" y1="529.08" x2="254.3" y2="529.08" stroke="#000" stroke-width="5.5"/>
<text x="230.6" y="540.43" font-size="38" text-anchor="end" font-family="Liberation Sans, sans-serif" font-weight="bold">0.4</text>
<line x1="247.05" y1="458.70" x2="254.3" y2="458.70" stroke="#000" stroke-width="5.5"/>
<line x1="239.80" y1="388.32" x2="254.3" y2="388.32" stroke="#000" stroke-width="5.5"/>
<text x="230.6" y="399.67" font-size="38" text-anchor="end" font-family="Liberation Sans, sans-serif" font-weight="bold">0.6</text>
<line x1="247.05" y1="317.94" x2="254.3" y2="317.94" stroke="#000" stroke-width="5.5"/>
<line x1="239.80" y1="247.56" x2="254.3" y2="247.56" stroke="#000" stroke-width="5.5"/>
<text x="230.6" y="258.91" font-size="38" text-anchor="end" font-family="Liberation Sans, sans-serif" font-weight="bold">0.8</text>
<line x1="247.05" y1="177.18" x2="254.3" y2="177.18" stroke="#000" stroke-width="5.5"/>
<line x1="239.80" y1="106.80" x2="254.3" y2="106.80" stroke="#000" stroke-width="5.5"/>
<text x="230.6" y="118.15" font-size="38" text-anchor="end" font-family="Liberation Sans, sans-serif" font-weight="bold">1.0</text>
<text transform="translate(119,457.7) rotate(-90)" font-size="37" text-anchor="middle" font-family="Liberation Sans, sans-serif" font-weight="bold">Normalized intensity (a.u.)</text>
<text x="563.4" y="948" font-size="38" font-family="Liberation Sans, sans-serif" font-weight="bold">Raman shift (cm<tspan dy="-18.7" font-size="36">-1</tspan><tspan dy="18.7" font-size="38">)</tspan></text>
<text x="346.1" y="254.75" font-size="37.5" font-family="Liberation Sans, sans-serif" font-weight="bold">(a)</text>
<rect x="1123.4" y="22.3" width="217.7" height="236.7" fill="#fff" stroke="#000" stroke-width="1.3"/>
<line x1="1137" y1="48.8" x2="1222" y2="48.8" stroke="#000000" stroke-width="5.6"/>
<text x="1232.1" y="62.3" font-size="38.5" font-family="Liberation Sans, sans-serif" font-weight="bold">CCu</text>
<line x1="1137" y1="96.3" x2="1222" y2="96.3" stroke="#ff0000" stroke-width="5.6"/>
<text x="1232.1" y="109.8" font-size="38.5" font-family="Liberation Sans, sans-serif" font-weight="bold">CCo</text>
<line x1="1137" y1="143.6" x2="1222" y2="143.6" stroke="#0000ff" stroke-width="5.6"/>
<text x="1232.1" y="157.1" font-size="38.5" font-family="Liberation Sans, sans-serif" font-weight="bold">CNi</text>
<line x1="1137" y1="190.9" x2="1222" y2="190.9" stroke="#ff00ff" stroke-width="5.6"/>
<text x="1232.1" y="204.4" font-size="38.5" font-family="Liberation Sans, sans-serif" font-weight="bold">CFe</text>
<line x1="1137" y1="238.4" x2="1222" y2="238.4" stroke="#008000" stroke-width="5.6"/>
<text x="1232.1" y="251.9" font-size="38.5" font-family="Liberation Sans, sans-serif" font-weight="bold">CFeO</text>
<text transform="translate(661.4,1066.7) scale(0.9,1)" font-size="87" font-family="Liberation Serif, serif">(</text><text transform="translate(689.2,1066.3) scale(0.94,1)" font-size="86" font-weight="bold" font-family="Liberation Serif, serif">a</text><text transform="translate(730.5,1066.7) scale(0.9,1)" font-size="87" font-family="Liberation Serif, serif">)</text>
<line x1="193.80" y1="1999.9" x2="1264.95" y2="1999.9" stroke="#000" stroke-width="5.9"/>
<line x1="231.53" y1="1999.9" x2="231.53" y2="2007.78" stroke="#000" stroke-width="5.9"/>
<line x1="310.80" y1="1999.9" x2="310.80" y2="2015.65" stroke="#000" stroke-width="5.9"/>
<text x="310.80" y="2059.3" font-size="42" text-anchor="middle" font-family="Liberation Sans, sans-serif" font-weight="bold">500</text>
<line x1="390.07" y1="1999.9" x2="390.07" y2="2007.78" stroke="#000" stroke-width="5.9"/>
<line x1="469.34" y1="1999.9" x2="469.34" y2="2015.65" stroke="#000" stroke-width="5.9"/>
<text x="469.34" y="2059.3" font-size="42" text-anchor="middle" font-family="Liberation Sans, sans-serif" font-weight="bold">1000</text>
<line x1="548.60" y1="1999.9" x2="548.60" y2="2007.78" stroke="#000" stroke-width="5.9"/>
<line x1="627.87" y1="1999.9" x2="627.87" y2="2015.65" stroke="#000" stroke-width="5.9"/>
<text x="627.87" y="2059.3" font-size="42" text-anchor="middle" font-family="Liberation Sans, sans-serif" font-weight="bold">1500</text>
<line x1="707.14" y1="1999.9" x2="707.14" y2="2007.78" stroke="#000" stroke-width="5.9"/>
<line x1="786.40" y1="1999.9" x2="786.40" y2="2015.65" stroke="#000" stroke-width="5.9"/>
<text x="786.40" y="2059.3" font-size="42" text-anchor="middle" font-family="Liberation Sans, sans-serif" font-weight="bold">2000</text>
<line x1="865.67" y1="1999.9" x2="865.67" y2="2007.78" stroke="#000" stroke-width="5.9"/>
<line x1="944.94" y1="1999.9" x2="944.94" y2="2015.65" stroke="#000" stroke-width="5.9"/>
<text x="944.94" y="2059.3" font-size="42" text-anchor="middle" font-family="Liberation Sans, sans-serif" font-weight="bold">2500</text>
<line x1="1024.21" y1="1999.9" x2="1024.21" y2="2007.78" stroke="#000" stroke-width="5.9"/>
<line x1="1103.48" y1="1999.9" x2="1103.48" y2="2015.65" stroke="#000" stroke-width="5.9"/>
<text x="1103.48" y="2059.3" font-size="42" text-anchor="middle" font-family="Liberation Sans, sans-serif" font-weight="bold">3000</text>
<line x1="1182.74" y1="1999.9" x2="1182.74" y2="2007.78" stroke="#000" stroke-width="5.9"/>
<line x1="1262.01" y1="1999.9" x2="1262.01" y2="2015.65" stroke="#000" stroke-width="5.9"/>
<text x="1262.01" y="2059.3" font-size="42" text-anchor="middle" font-family="Liberation Sans, sans-serif" font-weight="bold">3500</text>
<clipPath id="bclip"><rect x="209.55" y="1216.7" width="1052.95" height="783.50"/></clipPath>
<g clip-path="url(#bclip)" fill="none" stroke-linejoin="round" stroke-linecap="round">
<path d="M223.4 1910.7L216.4 1915.5M219.5 1910.3L222.6 1918.1M219.3 1910.6L225.0 1916.8M220.8 1912.3L225.8 1919.0M223.2 1910.5L225.7 1918.5M225.8 1909.9L225.2 1918.3M223.4 1912.8L229.9 1918.1M228.2 1908.8L227.3 1917.2M225.4 1912.0L232.2 1917.0M232.3 1909.8L227.5 1916.6M228.9 1909.0L233.3 1916.1M231.2 1909.7L233.2 1917.8M231.4 1910.2L235.3 1917.6M237.3 1911.2L231.6 1917.3M238.8 1911.1L232.3 1916.4M240.1 1912.4L233.2 1917.1M235.6 1910.9L239.9 1918.1M242.6 1913.8L235.0 1917.4M238.3 1911.6L241.6 1919.3M244.2 1912.8L237.9 1918.3M239.5 1914.3L244.9 1920.7M246.7 1914.2L240.0 1919.3M247.8 1914.2L241.1 1919.2M249.0 1913.5L242.1 1918.4M245.9 1912.6L247.4 1920.9M251.1 1914.7L244.3 1919.7M247.5 1915.0L250.1 1923.0M253.5 1917.6L246.3 1922.0M250.6 1913.8L251.3 1922.1M255.6 1918.1L248.5 1922.5M257.1 1918.0L249.1 1920.7M258.3 1910.7L256.8 1919.0M254.9 1914.0L262.1 1918.2M258.7 1911.1L260.2 1919.3M256.8 1912.1L264.1 1916.2M262.0 1910.0L260.8 1918.3M259.3 1909.9L265.4 1915.6M264.5 1908.0L262.4 1916.1M260.5 1911.2L268.5 1913.9M267.2 1908.2L264.0 1916.0M265.8 1906.4L267.4 1914.6M271.7 1910.5L263.5 1912.1M272.3 1909.7L264.8 1913.5M273.7 1911.9L265.4 1913.2M267.4 1911.9L273.7 1917.3M271.8 1908.5L271.3 1916.8M269.3 1910.9L275.9 1916.2M274.3 1907.5L272.9 1915.7M270.9 1910.0L278.5 1913.5M276.1 1906.8L275.3 1915.1M276.6 1905.8L276.8 1914.2M277.5 1906.4L278.0 1914.8M278.5 1903.9L279.1 1912.3M281.6 1905.4L278.1 1913.0M283.1 1904.6L278.7 1911.8M282.5 1902.8L281.5 1911.1M280.3 1903.3L285.9 1909.5M284.7 1903.6L283.6 1911.9M282.2 1905.2L288.3 1910.9M287.2 1901.7L285.4 1909.9M283.9 1904.6L290.8 1909.5M289.6 1901.7L287.3 1909.8M297.4 1907.4L290.7 1912.5M298.8 1908.4L291.4 1912.5M299.5 1907.8L292.8 1912.9M297.4 1905.8L296.9 1914.2M296.5 1907.8L299.9 1915.5M297.4 1909.2L301.2 1916.7M303.0 1908.2L297.9 1914.9M304.1 1910.3L299.1 1917.0M305.8 1908.5L299.6 1914.1M302.9 1907.8L304.8 1915.9M308.0 1910.4L301.8 1916.1M304.5 1910.1L307.6 1917.9M310.9 1913.1L303.3 1916.4M304.2 1911.6L312.1 1914.4M305.4 1910.9L312.9 1914.8M305.9 1911.7L314.3 1912.4M312.1 1908.7L310.0 1916.8M311.3 1907.0L312.8 1915.3M313.7 1905.7L312.2 1914.0M315.3 1906.8L312.7 1914.8M316.3 1905.2L313.8 1913.2M312.1 1907.3L320.0 1909.9M318.7 1904.1L315.5 1911.9M314.3 1907.7L321.9 1911.4M315.7 1906.8L322.7 1911.3M316.5 1905.5L324.1 1909.1M323.0 1903.2L319.8 1911.0M319.0 1904.3L326.0 1909.0M319.4 1905.6L327.6 1907.4M320.5 1905.7L328.6 1908.2M321.5 1905.8L329.7 1907.5M323.1 1902.7L330.1 1907.3M328.9 1900.1L326.4 1908.1M324.5 1902.7L332.7 1904.4M328.7 1898.9L330.3 1907.2M329.9 1898.7L330.9 1907.0M333.9 1898.8L328.9 1905.6M331.5 1899.2L333.6 1907.3M331.9 1898.3L335.5 1905.9M332.0 1898.3L337.6 1904.6M338.3 1899.0L333.5 1905.9M333.3 1899.4L340.8 1903.2M335.5 1899.0L340.8 1905.5M343.8 1891.3L348.2 1898.5M346.1 1890.7L348.1 1898.9M351.0 1892.5L345.5 1898.9M347.7 1890.9L351.1 1898.6M349.0 1890.6L352.0 1898.4M351.4 1889.8L351.6 1898.2M348.6 1893.5L356.4 1896.5M354.1 1888.5L352.9 1896.8M354.8 1889.1L354.2 1897.5M359.5 1891.8L351.5 1894.4M360.1 1890.1L353.1 1894.6M356.9 1889.9L358.5 1898.1M357.3 1890.6L360.1 1898.5M359.0 1889.9L360.4 1898.2M364.4 1893.9L356.8 1897.4M361.3 1892.9L361.7 1901.3M363.5 1893.9L361.5 1902.1M360.1 1893.3L367.0 1898.1M366.7 1891.7L362.6 1899.0M366.8 1892.0L364.7 1900.1M367.9 1892.3L365.8 1900.5M364.9 1893.4L371.0 1899.2M371.3 1891.8L366.8 1898.9M367.0 1891.2L373.2 1896.9M367.3 1893.1L375.2 1895.9M368.8 1891.3L375.8 1895.9M370.1 1890.4L376.7 1895.6M370.7 1892.4L378.4 1895.9M382.0 1896.4L375.5 1901.7M378.3 1894.5L381.4 1902.3M379.2 1896.2L382.7 1903.9M384.4 1895.5L379.8 1902.5M385.2 1894.6L381.1 1901.9M385.0 1893.4L383.6 1901.7M382.5 1895.9L388.2 1902.1M383.1 1896.5L389.8 1901.5M389.4 1893.7L385.8 1901.3M385.5 1895.3L391.9 1900.7M391.6 1893.9L388.1 1901.5M392.8 1893.6L389.1 1901.2M391.6 1893.6L392.5 1901.9M389.4 1895.0L396.6 1899.3M394.2 1890.8L393.7 1899.2M394.1 1891.0L395.7 1899.2M391.9 1893.0L399.9 1895.5M400.5 1891.3L393.2 1895.4M397.4 1890.1L398.3 1898.5M402.8 1892.7L395.0 1895.5M399.4 1892.2L400.5 1900.5M404.2 1894.3L397.7 1899.7M400.2 1891.7L403.9 1899.2M406.8 1895.0L399.5 1899.1M402.6 1894.0L406.0 1901.7M407.6 1892.0L403.2 1899.2M407.7 1894.1L405.4 1902.2M408.6 1892.7L406.7 1900.9M405.6 1894.1L411.9 1899.7M405.9 1894.5L413.8 1897.4M411.7 1890.6L410.2 1898.8M413.1 1890.5L410.9 1898.7M409.7 1892.5L416.5 1897.5M410.4 1892.6L418.0 1896.1M411.5 1892.7L419.1 1896.4M417.7 1888.9L415.1 1896.9M413.8 1889.7L420.9 1894.3M419.7 1887.5L417.0 1895.4M415.2 1891.9L423.5 1893.1M421.7 1887.8L419.0 1895.7M439.0 1882.1L445.7 1887.2M444.8 1879.7L442.1 1887.7M440.9 1881.2L448.1 1885.4M446.4 1877.6L444.9 1885.9M444.0 1879.7L449.4 1886.0M448.8 1877.7L446.8 1885.9M445.0 1878.5L452.6 1882.0M448.6 1877.0L450.8 1885.1M446.4 1881.0L454.8 1881.3M447.5 1878.3L455.5 1880.9M448.2 1879.3L456.6 1879.5M453.6 1873.2L453.0 1881.5M454.2 1873.0L454.2 1881.4M458.9 1875.6L451.5 1879.4M456.8 1873.9L455.6 1882.3M461.3 1879.2L453.1 1881.2M457.8 1874.4L458.5 1882.8M462.7 1878.0L455.6 1882.5M467.2 1869.6L464.8 1877.7M467.0 1869.6L466.9 1878.0M464.1 1870.6L471.8 1874.0M464.9 1870.8L472.9 1873.5M466.4 1868.8L473.5 1873.2M471.2 1864.9L470.6 1873.2M468.0 1868.4L475.7 1871.6M472.3 1865.0L473.3 1873.4M470.1 1866.5L477.4 1870.7M474.8 1863.4L474.7 1871.8M472.1 1864.5L479.2 1869.0M472.5 1865.1L480.8 1866.1M613.1 1685.5L606.4 1690.7M610.6 1684.8L610.9 1693.2M615.0 1684.8L608.6 1690.1M612.5 1685.1L613.1 1693.5M615.6 1684.9L612.1 1692.6M615.8 1684.4L614.0 1692.6M617.5 1684.7L614.3 1692.5M613.0 1687.3L620.9 1690.0M699.7 1805.0L691.3 1804.9M695.9 1801.3L696.9 1809.7M701.3 1804.9L693.3 1807.7M698.5 1803.6L697.9 1812.0M702.9 1806.3L695.3 1809.9M704.0 1806.9L695.9 1809.1M702.6 1815.2L710.8 1816.7M707.1 1809.9L708.2 1818.2M708.0 1810.0L709.0 1818.4M709.5 1808.4L709.4 1816.8M709.6 1809.2L711.2 1817.4M714.9 1811.8L707.9 1816.4M715.0 1808.9L710.1 1815.7M712.0 1810.3L715.4 1818.0M718.3 1810.1L711.3 1814.8M713.9 1809.8L718.0 1817.1M720.8 1812.8L713.4 1816.9M721.1 1811.1L715.3 1817.2M722.6 1813.1L716.0 1818.4M719.2 1811.7L721.7 1819.8M724.1 1811.4L719.1 1818.2M721.6 1812.3L723.9 1820.4M726.9 1813.1L720.8 1818.9M723.5 1812.0L726.4 1820.0M723.8 1812.8L728.4 1819.9M724.8 1813.9L729.7 1820.7M730.1 1811.1L726.6 1818.8M725.9 1812.5L733.0 1817.0M727.3 1811.5L733.9 1816.7M728.7 1812.8L734.8 1818.6M735.5 1811.5L730.2 1818.0M730.8 1812.9L737.2 1818.3M737.7 1810.3L732.6 1817.0M739.0 1812.3L733.6 1818.8M733.8 1812.3L741.0 1816.5M741.1 1809.5L736.0 1816.1M742.3 1809.9L737.1 1816.5M738.7 1811.4L743.0 1818.6M745.1 1810.7L738.8 1816.3M745.5 1810.2L740.7 1817.1M747.9 1812.5L740.6 1816.7M743.2 1811.1L747.5 1818.2M749.4 1810.9L743.5 1816.9M745.5 1812.1L749.6 1819.5M748.2 1812.6L749.1 1820.9M753.2 1814.7L746.2 1819.4M754.2 1813.4L747.4 1818.3M755.4 1815.8L748.4 1820.4M755.7 1813.4L750.3 1819.9M755.2 1812.2L753.0 1820.3M756.6 1812.4L753.9 1820.3M753.7 1814.5L759.1 1820.9M760.4 1812.3L754.7 1818.6M755.4 1812.9L762.0 1818.1M762.1 1811.7L757.5 1818.7M764.1 1813.8L757.8 1819.4M759.5 1812.4L764.7 1819.0M761.5 1812.9L765.0 1820.5M767.1 1814.5L761.6 1820.9M762.8 1813.1L768.2 1819.6M763.6 1813.6L769.6 1819.4M769.9 1814.3L765.6 1821.6M765.3 1813.1L772.4 1817.6M767.5 1813.2L772.6 1819.9M768.4 1813.0L773.9 1819.4M769.4 1814.1L775.2 1820.3M769.8 1812.4L777.0 1816.7M770.7 1814.9L778.3 1818.5M777.3 1810.2L774.0 1817.9M777.7 1811.9L775.8 1820.1M773.9 1813.9L781.7 1817.0M775.3 1811.8L782.3 1816.3M780.3 1809.4L779.3 1817.7M780.9 1809.4L780.8 1817.8M789.5 1813.0L794.5 1819.7M795.7 1812.8L790.5 1819.4M791.6 1812.6L796.8 1819.2M796.5 1811.6L794.2 1819.6M793.6 1813.3L799.5 1819.3M799.8 1811.7L795.5 1818.9M798.0 1810.9L799.5 1819.2M803.7 1813.6L796.0 1816.9M804.1 1813.0L797.8 1818.4M800.7 1814.3L803.4 1822.2M806.2 1815.8L800.0 1821.5M808.1 1816.7L800.3 1819.8M808.8 1815.6L801.8 1820.2M810.1 1817.4L802.7 1821.3M805.9 1815.9L809.1 1823.6M812.4 1817.6L804.7 1820.9M809.4 1815.4L810.0 1823.7M814.5 1817.9L807.0 1821.6M810.1 1817.6L813.6 1825.2M816.7 1818.7L809.2 1822.4M812.4 1817.4L815.7 1825.2M818.2 1817.8L812.0 1823.5M819.6 1820.0L812.8 1824.8M821.2 1819.8L813.4 1822.9M821.2 1820.5L815.6 1826.8M823.4 1820.4L815.6 1823.6M818.3 1820.0L822.9 1827.1M824.8 1821.7L818.5 1827.3M822.3 1820.5L823.2 1828.9M822.4 1821.6L825.3 1829.5M828.9 1823.2L821.0 1826.2M829.6 1822.9L822.3 1827.3M830.1 1823.3L823.8 1828.9M831.5 1825.1L824.5 1829.9M832.5 1824.0L825.6 1828.7M828.3 1823.2L831.8 1830.8M830.9 1823.9L831.3 1832.3M835.3 1826.5L829.1 1832.1M830.6 1824.5L836.1 1830.9M833.2 1825.6L835.8 1833.6M834.5 1825.2L836.7 1833.3M834.4 1826.7L839.1 1833.6M837.2 1825.6L838.5 1833.9M838.3 1825.5L839.5 1833.8M838.9 1825.2L841.0 1833.3M844.9 1829.1L837.0 1831.8M841.6 1826.4L842.4 1834.8M847.0 1830.4L839.1 1833.1M842.6 1827.2L845.5 1835.0M848.6 1830.6L841.7 1835.3M845.2 1829.8L847.4 1837.9M850.2 1829.6L844.6 1835.9M847.2 1828.9L849.9 1836.9M847.5 1828.8L851.9 1835.9M848.1 1831.2L853.5 1837.6M853.8 1829.0L850.1 1836.5M850.0 1829.6L856.2 1835.3M856.3 1829.7L852.2 1837.1M851.9 1829.4L858.9 1834.0M853.8 1829.5L859.2 1835.9M857.9 1828.3L857.3 1836.7M862.7 1832.2L854.5 1834.0M859.9 1829.8L859.4 1838.2M860.0 1829.2L861.4 1837.5M865.7 1832.3L857.7 1834.8M865.6 1832.0L860.1 1838.2M861.4 1832.8L866.5 1839.4M868.6 1834.4L861.5 1838.8M869.7 1838.8L869.1 1847.2M866.7 1840.1L874.3 1843.7M868.5 1838.4L874.6 1844.2M868.6 1840.7L876.6 1843.1M874.7 1836.7L872.7 1844.9M871.7 1838.2L877.8 1844.0M879.7 1839.8L880.7 1848.1M885.0 1844.8L877.4 1848.4M882.0 1842.8L882.2 1851.2M883.1 1843.4L883.1 1851.8M884.4 1844.4L883.7 1852.7M889.0 1846.6L881.0 1849.4M882.1 1846.9L889.9 1849.9M884.2 1845.3L889.9 1851.5M888.7 1844.9L887.6 1853.2M886.0 1843.8L892.5 1849.0M887.2 1843.7L893.5 1849.2M888.1 1845.1L894.7 1850.3M895.4 1843.6L889.6 1849.6M896.7 1845.4L890.5 1851.1M893.7 1843.5L895.7 1851.6M894.7 1844.7L896.8 1852.9M895.9 1843.5L897.9 1851.7M901.5 1847.4L894.4 1851.9M896.9 1845.4L901.3 1852.6M902.0 1844.9L898.4 1852.5M903.8 1845.0L898.9 1851.8M904.9 1845.5L900.1 1852.3M904.8 1843.1L902.4 1851.1M907.1 1843.3L902.4 1850.3M911.6 1848.9L909.1 1856.9M907.2 1850.8L915.3 1853.1M912.3 1845.5L912.2 1853.9M909.0 1849.5L917.3 1850.9M914.9 1844.4L913.4 1852.6M915.8 1843.9L914.4 1852.2M912.3 1846.8L919.8 1850.4M917.6 1844.3L916.6 1852.6M918.3 1842.5L917.9 1850.9M915.5 1843.9L922.8 1848.0M916.4 1844.8L923.8 1848.8M917.3 1844.5L925.1 1847.5M918.5 1843.1L925.9 1847.1M920.2 1841.5L926.3 1847.3M920.8 1841.0L928.0 1845.4M922.1 1843.0L929.0 1847.7M929.1 1840.6L924.2 1847.4M930.0 1840.5L925.6 1847.6M931.7 1841.2L926.1 1847.5M928.5 1838.5L931.6 1846.3M934.6 1842.2L927.6 1846.9M930.6 1839.3L933.8 1847.1M936.3 1842.8L930.4 1848.8M937.2 1840.6L931.6 1846.9M938.9 1843.8L932.1 1848.7M933.4 1841.9L939.8 1847.2M934.9 1842.9L940.5 1849.1M935.4 1842.8L942.4 1847.4M942.8 1842.9L937.2 1849.2M938.8 1842.0L943.5 1849.0M944.1 1839.9L940.5 1847.5M943.5 1840.3L943.1 1848.7M948.3 1843.0L940.4 1845.9M944.4 1841.5L946.4 1849.7M950.1 1844.2L942.8 1848.3M946.1 1842.2L948.8 1850.1M947.5 1844.3L949.4 1852.5M946.6 1844.0L952.4 1850.1M951.7 1843.9L949.5 1851.9M953.5 1844.2L949.9 1851.8M953.6 1842.5L952.0 1850.7M950.9 1842.5L956.9 1848.3M955.6 1841.3L954.4 1849.7M952.1 1844.5L960.0 1847.3M957.4 1840.3L956.8 1848.7M954.9 1842.3L961.3 1847.7M963.5 1850.7L961.7 1858.9M1041.1 1846.6L1043.8 1854.5M1047.1 1849.6L1039.9 1853.9M1048.5 1850.0L1040.6 1852.8M1049.6 1850.8L1041.5 1852.7M1047.5 1850.6L1045.7 1858.8M1049.4 1849.1L1045.9 1856.8M1045.3 1849.4L1052.1 1854.4M1045.8 1849.7L1053.7 1852.6M1047.9 1848.8L1053.9 1854.7M1052.6 1846.6L1051.2 1854.8M1048.9 1850.5L1057.1 1852.4M1054.7 1845.6L1053.3 1853.9M1050.9 1849.5L1059.1 1851.4M1057.8 1844.6L1054.3 1852.2M1053.9 1846.6L1060.2 1852.2M1062.2 1848.6L1053.8 1849.0M1059.0 1845.6L1058.9 1854.0M1059.2 1846.1L1060.5 1854.4M1059.7 1846.4L1061.8 1854.5M1065.4 1848.8L1058.0 1852.8M1058.4 1852.7L1066.8 1853.3M1062.5 1846.4L1064.5 1854.5M1060.5 1849.0L1068.4 1852.0M1066.3 1846.6L1064.5 1854.8M1066.4 1844.6L1066.2 1853.0M1067.6 1842.8L1075.7 1845.1M1073.3 1837.8L1071.9 1846.1M1069.4 1842.4L1077.6 1844.7M1073.9 1838.8L1075.0 1847.2M1071.2 1839.9L1079.4 1841.8M1075.3 1835.2L1077.3 1843.3M1076.2 1837.2L1078.6 1845.3M1081.6 1837.9L1075.4 1843.6M1078.4 1837.5L1080.9 1845.5M1083.4 1838.6L1078.1 1845.1M1112.6 1903.7L1116.2 1911.3M1119.0 1904.2L1111.9 1908.5M1120.4 1906.5L1112.5 1909.4M1120.9 1904.2L1114.1 1909.2M1118.2 1905.6L1118.8 1914.0M1123.6 1908.7L1115.4 1910.6M1121.0 1906.2L1120.0 1914.5M1125.4 1909.3L1117.5 1912.1M1126.1 1908.3L1118.8 1912.5M1121.9 1907.2L1124.9 1915.1M1124.4 1908.6L1124.5 1917.0M1124.8 1909.6L1126.0 1917.9M1127.0 1908.4L1125.7 1916.7M1131.4 1913.1L1123.3 1915.2M1132.3 1911.9L1124.4 1914.9M1128.1 1911.9L1130.6 1919.9M1133.6 1912.3L1127.2 1917.7M1130.3 1912.5L1132.6 1920.6M1131.4 1912.9L1133.7 1921.0M1137.6 1914.2L1129.6 1916.8M1134.6 1911.7L1134.7 1920.1M1139.0 1914.3L1132.5 1919.6M1139.8 1915.3L1134.0 1921.4M1141.0 1915.4L1135.0 1921.3M1136.9 1915.9L1141.4 1923.0M1142.6 1913.9L1137.9 1920.8M1139.3 1914.1L1143.5 1921.4M1141.0 1914.6L1144.0 1922.4M1142.1 1916.6L1144.9 1924.5M1148.2 1918.2L1141.0 1922.7M1144.7 1916.3L1146.6 1924.5M1150.1 1917.2L1143.3 1922.2M1146.3 1918.2L1149.3 1926.0M1152.4 1919.0L1145.4 1923.6M1149.8 1918.8L1150.1 1927.2M1154.1 1918.4L1147.9 1924.2M1151.9 1918.1L1152.3 1926.5M1157.0 1920.8L1149.3 1924.0M1150.8 1920.7L1157.7 1925.5M1157.8 1918.8L1153.0 1925.7M1158.4 1920.1L1154.6 1927.6M1159.1 1917.6L1156.2 1925.5M1159.6 1916.9L1157.9 1925.1M1156.3 1920.8L1163.3 1925.4M1157.3 1919.2L1164.5 1923.5M1162.1 1917.4L1161.6 1925.8M1163.8 1915.2L1162.0 1923.5M1164.6 1914.8L1163.3 1923.1M1162.2 1917.5L1168.0 1923.6M1167.0 1914.2L1165.4 1922.4M1169.3 1914.0L1165.3 1921.5M1165.9 1915.0L1170.9 1921.7M1172.4 1917.2L1166.5 1923.2M1173.9 1916.2L1167.2 1921.4M1169.9 1917.0L1173.4 1924.6M1172.1 1916.0L1173.3 1924.3M1172.2 1917.8L1175.3 1925.6M1178.7 1920.9L1170.9 1924.1M1175.8 1916.8L1175.8 1925.2M1180.7 1921.2L1172.9 1924.3M1176.9 1919.3L1178.7 1927.5M1182.6 1922.7L1174.9 1926.0M1179.8 1921.1L1179.6 1929.5M1184.9 1925.4L1176.5 1925.8M1185.7 1923.9L1177.5 1925.6M1183.2 1922.6L1181.9 1930.9M1182.4 1922.4L1184.5 1930.6M1188.6 1927.3L1180.2 1927.5M1195.3 1931.4L1187.9 1935.2M1192.8 1932.2L1192.2 1940.6M1197.2 1933.3L1189.6 1936.9M1194.9 1933.6L1193.7 1941.9M1199.3 1935.5L1191.1 1937.1M1196.3 1933.6L1195.8 1942.0M1201.2 1938.0L1192.8 1938.9M1201.4 1936.9L1194.7 1941.9M1202.4 1935.5L1196.0 1941.0M1203.3 1936.1L1197.2 1941.9M1205.2 1939.0L1197.5 1942.3M1200.6 1936.4L1204.3 1944.0M1207.4 1939.7L1199.7 1943.0M1208.4 1939.1L1200.8 1942.8M1208.8 1938.9L1202.6 1944.6M1205.1 1939.1L1208.5 1946.8M1210.9 1939.2L1204.9 1945.0M1207.0 1939.3L1210.9 1946.7M1213.3 1939.9L1206.9 1945.3M1209.9 1940.1L1212.5 1948.1M1211.7 1940.5L1212.8 1948.8M1211.8 1940.5L1214.9 1948.3M1218.1 1941.7L1210.8 1945.9M1215.2 1941.4L1215.9 1949.8M1220.0 1941.9L1213.2 1946.9M1217.3 1940.6L1218.1 1949.0M1221.1 1943.3L1216.5 1950.3M1217.2 1943.3L1222.7 1949.7M1223.4 1942.0L1218.7 1948.9M1219.5 1944.1L1224.9 1950.5M1225.6 1942.3L1221.1 1949.4M1221.9 1944.2L1227.1 1950.9M1229.1 1943.9L1222.2 1948.7M1224.7 1944.8L1228.9 1952.0M1230.2 1943.3L1225.6 1950.3M1227.2 1943.0L1230.9 1950.5M1233.1 1944.4L1227.2 1950.5M1235.0 1947.3L1227.6 1951.4M1230.5 1943.7L1234.4 1951.1M1231.4 1945.7L1235.7 1952.9M1237.5 1945.7L1231.7 1951.8M1234.7 1946.5L1236.8 1954.6M1234.7 1945.1L1238.9 1952.4M1235.9 1945.1L1239.8 1952.6M1242.6 1948.2L1235.4 1952.5M1243.1 1947.3L1237.1 1953.2M1244.3 1948.9L1238.1 1954.6M1240.4 1946.9L1244.2 1954.3M1247.0 1950.1L1239.7 1954.1M1247.8 1949.2L1241.1 1954.3M1249.0 1949.6L1242.0 1954.2M1246.1 1947.5L1247.1 1955.9M1250.7 1949.1L1244.7 1955.0M1248.3 1950.2L1249.4 1958.5M1253.8 1952.2L1246.0 1955.4M1248.9 1949.8L1253.1 1957.1M1255.4 1951.1L1248.7 1956.2M1256.0 1952.3L1250.3 1958.5M1257.6 1952.5L1250.9 1957.6M1253.4 1952.7L1257.3 1960.2M1254.6 1953.6L1258.2 1961.2M1256.4 1953.8L1258.4 1961.9M1258.1 1953.2L1258.9 1961.6M1258.8 1953.5L1260.3 1961.8M1264.4 1956.3L1256.8 1960.0M1265.3 1956.8L1258.0 1961.1" stroke="#000000" stroke-width="0.75" stroke-linecap="butt"/>
<path d="M221.2 1911.0L213.0 1911.8M219.5 1909.4L216.6 1917.1M223.0 1914.2L214.8 1914.2M253.1 1914.8L254.7 1922.9M250.7 1919.3L258.9 1918.7M254.8 1912.3L256.6 1920.4M255.0 1911.9L258.2 1919.6M293.2 1904.2L285.7 1907.5M294.5 1907.3L286.2 1907.5M291.5 1902.6L291.0 1910.9M296.1 1905.9L288.2 1908.1M293.7 1906.0L292.3 1914.1M335.3 1902.8L343.2 1902.5M336.3 1901.3L344.2 1901.2M339.4 1895.3L343.1 1902.3M340.5 1893.8L343.9 1900.9M339.1 1896.7L347.4 1897.3M340.1 1896.5L348.2 1897.6M341.0 1894.5L349.0 1896.5M422.8 1880.1L423.5 1888.3M422.9 1879.4L425.2 1887.3M423.6 1879.4L426.3 1887.2M421.7 1881.5L430.0 1882.3M428.6 1880.0L424.8 1886.9M429.5 1881.2L425.8 1888.2M430.2 1882.4L427.0 1889.7M430.1 1883.5L429.0 1891.3M434.5 1887.5L426.6 1889.9M432.4 1884.1L430.5 1892.1M433.9 1885.7L430.8 1893.3M437.4 1891.6L429.2 1891.3M434.7 1886.6L433.7 1894.8M438.0 1885.0L437.5 1893.3M434.7 1885.1L442.6 1887.3M438.8 1881.4L440.3 1889.5M436.4 1885.3L444.4 1887.6M439.8 1880.7L442.9 1888.3M456.0 1879.4L463.9 1879.0M459.1 1875.5L462.7 1882.6M458.0 1876.6L465.7 1878.8M462.2 1871.9L463.4 1879.7M462.4 1870.5L465.2 1877.9M463.9 1870.0L465.6 1877.8M473.7 1864.0L480.9 1865.8M474.7 1863.2L482.0 1863.7M475.7 1861.4L483.1 1861.3M476.8 1859.9L484.1 1860.6M477.9 1857.9L485.0 1859.8M480.7 1854.8L484.3 1861.3M481.5 1852.7L485.6 1858.9M482.1 1850.6L487.1 1856.0M482.0 1852.1L489.3 1853.0M484.3 1848.2L489.0 1853.9M485.8 1845.4L489.6 1851.8M487.6 1843.0L490.3 1850.5M489.0 1842.8L490.8 1850.6M489.2 1840.9L492.5 1848.2M488.0 1842.1L495.7 1844.3M491.6 1839.9L494.0 1847.5M491.6 1838.5L495.9 1845.0M493.7 1836.0L495.7 1843.6M491.9 1837.9L499.5 1839.9M501.5 1820.7L504.9 1828.3M500.0 1823.4L508.2 1823.5M505.0 1818.8L505.0 1827.1M502.0 1821.4L509.8 1824.1M502.7 1820.7L510.9 1821.7M503.9 1818.9L511.4 1821.0M506.5 1815.8L510.8 1822.2M508.6 1813.5L510.6 1821.0M508.8 1812.3L512.4 1819.2M509.5 1811.3L513.7 1817.8M511.3 1810.1L513.9 1817.4M509.7 1811.8L517.5 1811.3M512.8 1808.3L516.3 1815.2M511.7 1809.1L519.5 1808.7M515.1 1804.4L518.0 1811.6M513.8 1806.1L521.4 1807.7M514.7 1805.8L522.4 1807.1M518.2 1799.8L520.9 1807.1M519.5 1799.7L521.6 1807.2M524.2 1788.2L532.1 1790.4M525.3 1787.1L532.9 1790.3M525.9 1787.7L534.1 1788.5M529.9 1781.2L531.8 1789.3M527.7 1783.8L535.8 1785.2M531.2 1779.4L534.1 1787.1M529.7 1781.5L537.4 1784.4M533.9 1779.2L535.0 1787.4M531.2 1781.9L539.5 1782.1M534.6 1776.8L537.9 1784.4M536.2 1774.8L538.0 1782.9M536.5 1774.2L539.5 1781.9M537.1 1774.9L540.3 1781.7M536.0 1775.7L543.5 1776.1M537.0 1774.4L544.5 1775.3M540.4 1769.4L543.2 1776.4M565.5 1596.1L569.9 1602.4M609.1 1680.7L601.7 1681.6M610.0 1682.0L602.8 1684.2M611.2 1683.5L603.7 1684.6M610.1 1682.5L606.9 1689.3M614.1 1686.7L621.7 1686.7M615.2 1684.4L622.6 1685.6M618.4 1679.6L621.5 1686.4M617.2 1681.8L624.7 1682.0M619.7 1677.4L624.3 1683.4M681.2 1800.4L689.3 1801.8M682.0 1798.1L690.2 1798.2M683.0 1796.8L691.1 1798.3M683.8 1796.6L692.0 1796.7M684.7 1796.5L692.9 1796.5M693.4 1797.6L690.5 1805.3M694.4 1799.3L691.3 1806.9M697.6 1802.2L689.9 1805.2M696.0 1801.3L693.3 1809.1M704.8 1808.0L697.0 1809.7M703.3 1807.3L700.3 1814.7M703.7 1807.5L701.9 1815.3M707.7 1812.7L699.8 1813.4M706.2 1811.1L703.2 1818.4M707.6 1811.5L703.8 1818.5M785.3 1813.8L784.2 1822.0M789.8 1820.4L781.5 1820.6M787.9 1817.0L785.2 1824.8M786.2 1818.3L788.7 1826.1M787.6 1816.7L789.0 1824.9M788.1 1815.5L790.4 1823.4M786.3 1816.4L794.0 1819.3M787.2 1816.5L794.8 1819.8M879.7 1840.7L871.5 1841.2M877.2 1836.7L875.8 1844.8M878.5 1838.7L876.2 1846.6M882.2 1842.5L874.3 1844.9M883.0 1842.3L875.4 1845.5M909.8 1847.6L901.7 1849.3M910.7 1847.5L902.6 1848.8M908.7 1846.1L906.4 1854.0M909.0 1847.2L907.9 1855.4M909.8 1848.3L908.9 1856.5M1041.5 1844.6L1033.5 1845.1M1042.4 1847.9L1034.5 1847.9M1043.2 1847.3L1035.5 1849.3M1041.8 1845.9L1038.9 1853.2M1045.3 1849.3L1037.3 1849.7M1067.4 1843.4L1066.9 1851.6M1064.1 1845.5L1072.0 1847.6M1067.8 1843.5L1070.1 1851.4M1065.7 1845.6L1074.0 1845.4M1070.3 1840.3L1071.2 1848.5M1189.4 1926.8L1181.2 1928.0M1190.3 1929.5L1182.1 1929.6M1191.1 1929.9L1183.1 1932.0M1191.9 1929.8L1184.1 1932.6M1190.0 1927.0L1187.8 1935.0M1190.4 1927.9L1189.1 1936.1M1191.8 1929.4L1189.6 1937.4" stroke="#000000" stroke-width="1.0" stroke-linecap="butt"/>
<path d="M379.1 1893.1L371.9 1893.6M379.1 1893.2L374.0 1898.2M381.1 1896.5L374.1 1898.1M418.3 1888.7L423.3 1892.5M419.4 1885.4L424.4 1889.2M432.8 1889.3L437.3 1894.3M432.8 1890.1L439.5 1890.6M494.3 1835.6L499.0 1840.5M494.4 1835.2L501.1 1836.4M496.4 1830.6L501.3 1835.3M497.6 1828.5L502.2 1833.6M497.6 1827.9L504.4 1828.8M498.7 1826.9L505.5 1827.5M518.0 1800.5L524.6 1802.0M519.8 1796.9L524.9 1801.3M520.1 1796.4L526.8 1797.9M522.4 1792.5L526.6 1797.8M523.1 1790.8L528.1 1795.5M524.3 1788.5L529.1 1793.3M692.7 1797.4L686.1 1798.3M692.9 1797.3L688.0 1801.8M785.0 1813.5L777.9 1814.9M784.4 1812.9L780.6 1819.2M787.2 1818.1L779.9 1817.8M868.5 1833.6L863.8 1838.6M870.6 1837.5L863.9 1838.7M871.0 1838.3L865.7 1842.6M960.2 1853.5L966.9 1854.4M962.2 1848.8L967.1 1853.6M962.4 1848.8L969.1 1849.9M963.5 1846.6L970.1 1848.3M1029.8 1817.3L1023.0 1817.7M1029.8 1817.7L1025.1 1822.6M1031.9 1821.8L1025.2 1822.7M1084.7 1841.5L1078.0 1842.9M1085.8 1844.8L1079.0 1845.0M1085.8 1845.0L1081.2 1850.0M1087.9 1848.2L1081.2 1849.4M1089.1 1850.7L1082.3 1851.1M1090.2 1852.6L1083.4 1852.9M1090.1 1852.6L1085.6 1857.6M1094.8 1865.0L1089.7 1869.4M1096.7 1868.5L1090.0 1869.5M1097.8 1870.9L1091.0 1871.1M1098.8 1871.9L1092.2 1873.3M1098.8 1873.3L1094.4 1878.5M1100.3 1875.2L1095.0 1879.5M1100.9 1876.7L1096.6 1881.9M1103.1 1881.4L1096.5 1883.0M1103.3 1882.1L1098.6 1887.1M1105.3 1885.3L1098.7 1887.1M1105.2 1885.6L1101.0 1890.9M1106.4 1888.2L1101.9 1893.3M1107.8 1890.1L1102.7 1894.6M1108.9 1892.3L1103.9 1897.6M1110.0 1893.6L1104.9 1898.8M1112.0 1897.1L1105.0 1899.1M1111.9 1897.1L1107.3 1902.8M1114.2 1900.9L1107.0 1901.9M1113.8 1900.4L1109.5 1906.3M1114.3 1901.5L1111.2 1908.1" stroke="#000000" stroke-width="1.25" stroke-linecap="butt"/>
<path d="M582.3 1218.2L576.9 1219.7M583.3 1221.0L578.2 1223.1M584.5 1224.6L579.2 1226.0M603.2 1667.4L598.0 1668.9M604.2 1670.6L599.2 1672.5M605.4 1674.2L600.3 1675.7M606.5 1677.4L601.5 1679.3M620.1 1678.3L625.3 1679.8M621.3 1674.8L626.3 1676.7M622.4 1671.4L627.5 1673.3M623.5 1668.0L628.6 1669.8M656.3 1215.5L650.6 1217.1M657.1 1217.6L652.0 1220.5M964.9 1844.2L970.6 1845.3M966.3 1840.1L971.4 1843.0M967.1 1837.9L972.8 1839.2M968.5 1834.6L973.7 1837.2M969.4 1831.9L975.1 1833.1M970.8 1828.1L975.9 1831.1M1006.8 1656.5L1001.7 1658.1M1007.9 1659.7L1002.9 1661.6M1035.3 1834.2L1029.4 1835.7M1036.1 1836.4L1030.8 1839.4M1037.5 1839.9L1031.6 1841.4M1038.4 1842.0L1033.0 1844.9M1091.3 1856.3L1086.1 1858.9M1092.4 1859.5L1087.3 1862.2M1093.8 1863.3L1088.1 1864.7" stroke="#000000" stroke-width="1.5" stroke-linecap="butt"/>
<path d="M540.1 1771.0L545.1 1772.3M541.0 1767.4L546.0 1768.7M541.9 1763.8L546.9 1765.1M542.8 1760.2L547.8 1761.5M543.7 1756.6L548.7 1757.9M544.6 1753.0L549.6 1754.3M545.4 1749.5L550.5 1750.7M546.3 1745.9L551.4 1747.1M547.2 1742.3L552.3 1743.5M548.1 1738.7L553.2 1739.9M549.0 1735.1L554.1 1736.4M549.9 1731.5L555.0 1732.8M550.8 1728.2L555.9 1728.9M551.3 1724.5L556.5 1725.3M551.9 1720.8L557.0 1721.6M552.4 1717.2L557.6 1718.0M553.0 1713.5L558.1 1714.3M553.5 1709.9L558.7 1710.6M554.1 1706.2L559.2 1707.0M554.6 1702.5L559.8 1703.3M555.2 1698.9L560.3 1699.7M555.7 1695.2L560.9 1696.0M556.3 1691.6L561.4 1692.3M556.8 1687.9L562.0 1688.7M557.3 1684.4L562.5 1684.9M557.7 1680.7L562.8 1681.2M558.0 1677.0L563.2 1677.5M558.3 1673.3L563.5 1673.8M558.7 1669.7L563.9 1670.1M559.0 1666.0L564.2 1666.5M559.4 1662.3L564.5 1662.8M559.7 1658.6L564.9 1659.1M560.0 1655.0L565.2 1655.3M560.3 1651.3L565.4 1651.6M560.5 1647.6L565.7 1648.0M560.7 1643.9L565.9 1644.3M561.0 1640.2L566.2 1640.6M561.2 1636.5L566.4 1636.9M561.5 1632.8L566.7 1633.2M561.7 1629.1L566.9 1629.5M562.0 1625.5L567.2 1625.8M562.3 1621.7L567.4 1622.1M562.5 1618.0L567.7 1618.5M562.8 1614.4L568.0 1614.8M563.1 1610.7L568.3 1611.1M563.4 1607.0L568.6 1607.4M563.7 1603.3L568.9 1603.7M565.3 1598.4L570.5 1598.7M565.4 1594.7L570.6 1595.0M565.6 1591.0L570.8 1591.3M565.7 1587.3L570.9 1587.6M565.9 1583.6L571.1 1583.9M566.0 1579.9L571.2 1580.2M566.2 1576.3L571.4 1576.5M566.4 1572.6L571.6 1572.8M566.5 1568.9L571.7 1569.0M566.5 1565.2L571.7 1565.3M566.6 1561.5L571.8 1561.6M566.7 1557.8L571.9 1557.9M566.8 1554.1L572.0 1554.2M566.9 1550.4L572.1 1550.5M566.9 1546.7L572.1 1546.8M567.0 1543.0L572.2 1543.1M567.1 1539.3L572.3 1539.4M567.2 1535.6L572.4 1535.7M567.2 1531.9L572.4 1532.0M567.3 1528.2L572.5 1528.3M567.4 1524.5L572.6 1524.6M567.5 1520.8L572.7 1520.9M567.6 1517.1L572.8 1517.2M567.6 1513.4L572.8 1513.5M567.7 1509.7L572.9 1509.8M567.8 1506.0L573.0 1506.1M567.9 1502.3L573.1 1502.4M567.9 1498.6L573.1 1498.7M568.0 1494.9L573.2 1495.0M568.1 1491.2L573.3 1491.3M568.1 1487.5L573.3 1487.6M568.2 1483.8L573.4 1483.9M568.3 1480.1L573.5 1480.2M568.3 1476.4L573.5 1476.5M568.4 1472.7L573.6 1472.8M568.5 1469.0L573.7 1469.1M568.5 1465.3L573.7 1465.4M568.6 1461.6L573.8 1461.7M568.7 1457.9L573.9 1458.0M568.7 1454.2L573.9 1454.3M568.8 1450.5L574.0 1450.6M568.9 1446.8L574.1 1446.9M568.9 1443.1L574.1 1443.3M569.0 1439.4L574.2 1439.6M569.1 1435.7L574.3 1435.9M569.2 1432.0L574.4 1432.2M569.3 1428.3L574.5 1428.5M569.4 1424.6L574.6 1424.8M569.5 1420.9L574.7 1421.1M569.6 1417.2L574.8 1417.4M569.6 1413.5L574.8 1413.7M569.7 1409.8L574.9 1410.0M569.8 1406.1L575.0 1406.3M569.9 1402.4L575.1 1402.6M570.0 1398.7L575.2 1398.9M570.1 1395.0L575.3 1395.2M570.2 1391.3L575.4 1391.5M570.2 1387.6L575.4 1387.8M570.3 1383.9L575.5 1384.1M570.4 1380.2L575.6 1380.4M570.5 1376.5L575.7 1376.7M570.6 1372.8L575.8 1373.0M570.7 1369.1L575.9 1369.3M570.8 1365.4L576.0 1365.6M570.9 1361.7L576.1 1361.9M571.0 1358.0L576.2 1358.2M571.1 1354.4L576.3 1354.5M571.2 1350.7L576.4 1350.8M571.3 1347.0L576.5 1347.1M571.4 1343.3L576.6 1343.4M571.5 1339.6L576.6 1339.7M571.5 1335.9L576.7 1336.0M571.6 1332.2L576.8 1332.3M571.7 1328.5L576.9 1328.6M571.8 1324.8L577.0 1324.9M571.9 1321.1L577.1 1321.2M572.0 1317.4L577.2 1317.5M572.1 1313.7L577.3 1313.8M572.2 1310.0L577.4 1310.1M572.3 1306.3L577.5 1306.4M572.4 1302.6L577.6 1302.7M572.5 1298.9L577.7 1299.0M572.7 1295.1L577.8 1295.3M572.8 1291.5L578.0 1291.6M572.9 1287.8L578.1 1287.9M573.0 1284.1L578.2 1284.2M573.2 1280.4L578.4 1280.5M573.3 1276.7L578.5 1276.8M573.4 1273.0L578.6 1273.1M573.5 1269.3L578.7 1269.4M573.7 1265.6L578.9 1265.8M573.8 1261.9L579.0 1262.1M573.9 1258.2L579.1 1258.4M574.1 1254.5L579.3 1254.7M574.2 1250.8L579.4 1251.0M574.4 1247.0L579.6 1247.3M574.6 1243.3L579.7 1243.6M574.7 1239.7L579.9 1239.9M574.9 1236.0L580.1 1236.2M575.1 1232.2L580.3 1232.6M575.4 1228.5L580.6 1228.9M575.7 1224.7L580.9 1225.3M576.1 1221.0L581.3 1221.6M584.9 1228.5L579.7 1228.8M585.1 1232.2L579.9 1232.5M585.3 1235.9L580.1 1236.1M585.4 1239.6L580.2 1239.8M585.6 1243.3L580.4 1243.5M585.7 1247.0L580.5 1247.2M585.8 1250.8L580.6 1250.9M585.9 1254.5L580.7 1254.6M586.0 1258.2L580.8 1258.3M586.1 1261.9L580.9 1262.0M586.2 1265.6L581.0 1265.7M586.3 1269.3L581.1 1269.4M586.4 1273.0L581.2 1273.1M586.5 1276.7L581.3 1276.8M586.6 1280.4L581.4 1280.5M586.6 1284.1L581.4 1284.2M586.7 1287.8L581.5 1287.9M586.8 1291.5L581.6 1291.6M586.9 1295.2L581.7 1295.3M586.9 1298.9L581.7 1299.0M587.0 1302.6L581.8 1302.7M587.1 1306.3L581.9 1306.4M587.2 1310.0L582.0 1310.1M587.2 1313.7L582.0 1313.8M587.3 1317.4L582.1 1317.5M587.4 1321.1L582.2 1321.2M587.5 1324.8L582.3 1324.9M587.6 1328.5L582.4 1328.6M587.6 1332.2L582.4 1332.3M587.7 1335.9L582.5 1336.0M587.8 1339.6L582.6 1339.7M587.8 1343.3L582.6 1343.4M587.9 1347.0L582.7 1347.1M588.0 1350.7L582.8 1350.8M588.1 1354.4L582.9 1354.5M588.1 1358.1L582.9 1358.2M588.2 1361.8L583.0 1361.9M588.3 1365.5L583.1 1365.6M588.3 1369.2L583.1 1369.3M588.4 1372.9L583.2 1373.0M588.5 1376.6L583.3 1376.7M588.6 1380.3L583.4 1380.4M588.6 1384.0L583.4 1384.1M588.7 1387.7L583.5 1387.8M588.8 1391.4L583.6 1391.5M588.9 1395.1L583.7 1395.2M588.9 1398.8L583.7 1398.9M589.0 1402.4L583.8 1402.6M589.1 1406.1L583.9 1406.3M589.2 1409.8L584.0 1410.0M589.3 1413.5L584.1 1413.7M589.3 1417.2L584.1 1417.4M589.4 1420.9L584.2 1421.1M589.5 1424.6L584.3 1424.8M589.6 1428.3L584.4 1428.5M589.6 1432.0L584.4 1432.2M589.7 1435.7L584.5 1435.9M589.8 1439.4L584.6 1439.5M589.9 1443.1L584.7 1443.2M590.0 1446.8L584.8 1447.0M590.1 1450.5L584.9 1450.7M590.2 1454.2L585.0 1454.4M590.3 1457.9L585.1 1458.1M590.4 1461.6L585.2 1461.8M590.5 1465.3L585.3 1465.5M590.6 1469.0L585.5 1469.2M590.8 1472.7L585.6 1472.9M590.9 1476.4L585.7 1476.6M591.0 1480.1L585.8 1480.3M591.1 1483.8L585.9 1484.0M591.2 1487.5L586.0 1487.7M591.3 1491.2L586.1 1491.4M591.5 1494.9L586.3 1495.1M591.6 1498.6L586.4 1498.7M591.7 1502.3L586.5 1502.4M591.8 1506.0L586.6 1506.1M591.9 1509.7L586.7 1509.8M592.0 1513.4L586.8 1513.5M592.1 1517.1L586.9 1517.2M592.1 1520.8L586.9 1520.9M592.2 1524.5L587.0 1524.6M592.3 1528.2L587.1 1528.3M592.4 1531.9L587.2 1532.0M592.5 1535.6L587.3 1535.7M592.6 1539.3L587.4 1539.4M592.6 1543.0L587.4 1543.1M592.7 1546.7L587.5 1546.8M592.8 1550.4L587.6 1550.5M592.9 1554.1L587.7 1554.2M593.0 1557.8L587.8 1557.9M593.1 1561.5L587.9 1561.6M593.2 1565.2L588.0 1565.3M593.2 1568.9L588.0 1569.0M593.4 1572.5L588.2 1572.8M593.6 1576.2L588.4 1576.5M593.8 1579.9L588.6 1580.2M594.1 1583.6L588.9 1583.9M594.3 1587.3L589.1 1587.6M594.5 1590.9L589.3 1591.3M594.8 1594.6L589.6 1595.0M595.0 1598.3L589.8 1598.7M595.2 1602.0L590.0 1602.3M595.4 1605.7L590.2 1606.0M595.6 1609.4L590.4 1609.7M595.8 1613.1L590.6 1613.4M596.0 1616.8L590.8 1617.1M596.2 1620.5L591.0 1620.8M596.5 1624.0L591.3 1624.7M597.0 1627.6L591.9 1628.4M597.5 1631.3L592.4 1632.0M598.1 1635.0L592.9 1635.7M598.6 1638.6L593.5 1639.4M599.1 1642.3L594.0 1643.0M599.7 1645.9L594.5 1646.7M600.2 1649.6L595.1 1650.4M600.8 1653.2L595.6 1654.0M601.3 1656.9L596.2 1657.7M601.9 1660.6L596.8 1661.3M602.4 1664.2L597.3 1665.0M624.4 1665.0L629.5 1666.1M625.2 1661.4L630.3 1662.5M626.0 1657.8L631.0 1658.8M626.7 1654.1L631.8 1655.2M627.4 1650.6L632.6 1651.5M628.1 1646.9L633.2 1647.9M628.8 1643.3L633.9 1644.3M629.5 1639.7L634.6 1640.6M630.2 1636.0L635.3 1637.0M630.8 1632.5L635.9 1633.3M631.3 1628.8L636.5 1629.6M631.9 1625.2L637.0 1625.9M632.5 1621.5L637.6 1622.3M633.0 1617.8L638.1 1618.6M633.6 1614.2L638.7 1615.0M634.0 1610.6L639.2 1611.2M634.4 1607.0L639.5 1607.5M634.7 1603.3L639.9 1603.8M635.1 1599.6L640.3 1600.1M635.5 1595.9L640.7 1596.4M635.9 1592.2L641.0 1592.8M636.2 1588.6L641.4 1589.1M636.6 1584.9L641.8 1585.4M636.9 1581.2L642.1 1581.7M637.3 1577.5L642.5 1578.0M637.7 1573.8L642.8 1574.3M638.0 1570.3L643.1 1570.5M638.1 1566.6L643.3 1566.8M638.3 1562.9L643.5 1563.1M638.4 1559.2L643.6 1559.4M638.6 1555.5L643.8 1555.7M638.7 1551.8L643.9 1552.0M638.9 1548.1L644.1 1548.3M639.0 1544.4L644.2 1544.6M639.2 1540.7L644.4 1540.9M639.3 1537.0L644.5 1537.2M639.5 1533.3L644.7 1533.5M639.6 1529.6L644.8 1529.8M639.8 1525.9L645.0 1526.1M639.9 1522.2L645.1 1522.4M640.1 1518.5L645.3 1518.8M640.2 1514.8L645.4 1515.1M640.4 1511.1L645.6 1511.4M640.5 1507.4L645.7 1507.7M640.7 1503.8L645.9 1504.0M640.8 1500.1L646.0 1500.3M641.0 1496.4L646.2 1496.6M641.1 1492.7L646.3 1492.9M641.3 1489.0L646.5 1489.2M641.4 1485.3L646.6 1485.5M641.6 1481.6L646.8 1481.8M641.7 1477.9L646.9 1478.1M641.9 1474.2L647.0 1474.4M642.0 1470.5L647.2 1470.7M642.1 1466.8L647.3 1467.0M642.3 1463.1L647.5 1463.3M642.4 1459.4L647.6 1459.6M642.6 1455.7L647.8 1455.9M642.7 1452.0L647.9 1452.2M642.9 1448.3L648.1 1448.5M643.0 1444.6L648.2 1444.8M643.2 1440.9L648.4 1441.1M643.3 1437.2L648.5 1437.4M643.4 1433.5L648.6 1433.7M643.5 1429.8L648.7 1430.0M643.6 1426.1L648.8 1426.3M643.7 1422.4L648.9 1422.6M643.8 1418.7L649.0 1418.9M643.9 1415.0L649.1 1415.2M644.0 1411.3L649.2 1411.5M644.1 1407.6L649.3 1407.8M644.2 1403.9L649.4 1404.1M644.3 1400.2L649.5 1400.4M644.4 1396.5L649.6 1396.7M644.5 1392.9L649.7 1393.0M644.6 1389.2L649.8 1389.3M644.7 1385.5L649.9 1385.6M644.8 1381.8L650.0 1381.9M644.9 1378.1L650.1 1378.2M645.0 1374.4L650.2 1374.5M645.1 1370.7L650.3 1370.8M645.2 1367.0L650.4 1367.1M645.3 1363.3L650.5 1363.4M645.4 1359.6L650.6 1359.7M645.5 1355.9L650.7 1356.0M645.6 1352.2L650.8 1352.3M645.7 1348.5L650.9 1348.6M645.8 1344.8L651.0 1344.9M645.9 1341.1L651.1 1341.2M646.0 1337.4L651.2 1337.5M646.1 1333.7L651.2 1333.8M646.1 1330.0L651.3 1330.1M646.2 1326.3L651.4 1326.4M646.3 1322.6L651.5 1322.7M646.4 1318.9L651.6 1319.0M646.5 1315.2L651.7 1315.3M646.6 1311.5L651.8 1311.6M646.7 1307.8L651.9 1307.9M646.8 1304.1L651.9 1304.2M646.8 1300.4L652.0 1300.5M646.9 1296.7L652.1 1296.8M647.0 1293.0L652.2 1293.1M647.1 1289.3L652.3 1289.4M647.2 1285.6L652.4 1285.7M647.2 1281.9L652.4 1282.0M647.3 1278.2L652.5 1278.3M647.4 1274.5L652.6 1274.6M647.5 1270.8L652.7 1270.9M647.6 1267.1L652.8 1267.2M647.7 1263.4L652.9 1263.5M647.8 1259.7L653.0 1259.9M647.9 1256.0L653.1 1256.2M648.0 1252.3L653.2 1252.5M648.2 1248.6L653.4 1248.8M648.3 1244.9L653.5 1245.1M648.4 1241.2L653.6 1241.4M648.5 1237.5L653.7 1237.7M648.7 1233.8L653.9 1234.0M648.9 1230.0L654.1 1230.4M649.1 1226.3L654.3 1226.7M649.4 1222.6L654.6 1223.0M649.7 1218.9L654.8 1219.3M649.9 1215.2L655.1 1215.6M657.8 1221.8L652.7 1222.3M658.2 1225.5L653.0 1226.0M658.4 1229.3L653.2 1229.6M658.6 1233.0L653.4 1233.3M658.8 1236.7L653.6 1236.9M659.0 1240.4L653.8 1240.6M659.2 1244.1L654.0 1244.3M659.4 1247.8L654.2 1248.0M659.6 1251.5L654.4 1251.7M659.7 1255.2L654.5 1255.4M659.8 1258.9L654.6 1259.1M659.9 1262.6L654.7 1262.8M660.0 1266.3L654.8 1266.5M660.2 1270.0L655.0 1270.2M660.3 1273.7L655.1 1273.9M660.4 1277.4L655.2 1277.6M660.5 1281.1L655.3 1281.2M660.6 1284.8L655.4 1284.9M660.7 1288.5L655.5 1288.6M660.8 1292.2L655.6 1292.3M660.9 1295.9L655.7 1296.0M661.0 1299.6L655.8 1299.7M661.1 1303.3L655.9 1303.4M661.2 1307.0L656.0 1307.1M661.3 1310.7L656.1 1310.8M661.4 1314.4L656.2 1314.5M661.4 1318.1L656.3 1318.2M661.6 1321.8L656.4 1321.9M661.7 1325.5L656.5 1325.6M661.8 1329.2L656.6 1329.3M661.9 1332.9L656.7 1333.0M662.0 1336.6L656.8 1336.7M662.2 1340.3L657.0 1340.4M662.3 1344.0L657.1 1344.1M662.4 1347.7L657.2 1347.8M662.5 1351.4L657.3 1351.5M662.6 1355.1L657.5 1355.2M662.8 1358.8L657.6 1358.9M662.9 1362.5L657.7 1362.6M663.0 1366.2L657.8 1366.3M663.1 1369.9L657.9 1370.0M663.3 1373.6L658.1 1373.7M663.4 1377.2L658.2 1377.4M663.5 1380.9L658.3 1381.1M663.6 1384.6L658.4 1384.8M663.8 1388.3L658.6 1388.5M663.9 1392.0L658.7 1392.2M664.0 1395.7L658.8 1395.9M664.1 1399.4L658.9 1399.6M664.2 1403.1L659.1 1403.3M664.4 1406.8L659.2 1407.0M664.5 1410.5L659.3 1410.7M664.6 1414.2L659.4 1414.4M664.7 1417.9L659.5 1418.1M664.9 1421.6L659.7 1421.8M665.0 1425.3L659.8 1425.5M665.1 1429.0L659.9 1429.2M665.2 1432.7L660.0 1432.9M665.4 1436.4L660.2 1436.6M665.5 1440.1L660.3 1440.3M665.6 1443.8L660.4 1444.0M665.7 1447.5L660.5 1447.7M665.9 1451.2L660.7 1451.4M666.0 1454.9L660.8 1455.1M666.1 1458.6L660.9 1458.8M666.2 1462.3L661.0 1462.5M666.4 1466.0L661.2 1466.2M666.5 1469.7L661.3 1469.9M666.6 1473.4L661.4 1473.6M666.7 1477.1L661.5 1477.3M666.9 1480.8L661.7 1481.0M667.0 1484.5L661.8 1484.7M667.1 1488.2L661.9 1488.4M667.2 1491.9L662.0 1492.1M667.4 1495.6L662.2 1495.8M667.5 1499.3L662.3 1499.5M667.6 1503.0L662.4 1503.2M667.7 1506.7L662.5 1506.9M667.9 1510.4L662.7 1510.6M668.0 1514.1L662.8 1514.3M668.1 1517.8L662.9 1517.9M668.3 1521.5L663.1 1521.6M668.4 1525.2L663.2 1525.3M668.5 1528.9L663.3 1529.0M668.7 1532.5L663.5 1532.7M668.8 1536.2L663.6 1536.4M668.9 1539.9L663.7 1540.1M669.1 1543.6L663.9 1543.8M669.2 1547.3L664.0 1547.5M669.3 1551.0L664.2 1551.2M669.5 1554.7L664.3 1554.9M669.6 1558.4L664.4 1558.6M669.8 1562.1L664.6 1562.3M669.9 1565.8L664.7 1566.0M670.0 1569.5L664.8 1569.7M670.2 1573.2L665.0 1573.4M670.3 1576.9L665.1 1577.1M670.4 1580.6L665.2 1580.8M670.6 1584.3L665.4 1584.5M670.7 1588.0L665.5 1588.2M670.8 1591.7L665.7 1591.9M671.0 1595.4L665.8 1595.6M671.1 1599.1L665.9 1599.3M671.3 1602.8L666.1 1603.0M671.4 1606.5L666.2 1606.7M671.5 1610.2L666.3 1610.4M671.7 1613.9L666.5 1614.1M671.8 1617.6L666.6 1617.8M672.0 1621.3L666.8 1621.5M672.1 1625.0L666.9 1625.2M672.3 1628.7L667.1 1628.9M672.5 1632.3L667.3 1632.6M672.7 1636.0L667.5 1636.3M672.8 1639.7L667.6 1640.0M673.0 1643.4L667.8 1643.7M673.2 1647.1L668.0 1647.4M673.3 1650.8L668.2 1651.1M673.5 1654.5L668.3 1654.8M673.7 1658.2L668.5 1658.5M673.9 1661.9L668.7 1662.2M674.0 1665.6L668.8 1665.9M674.3 1669.2L669.1 1669.6M674.5 1672.9L669.3 1673.3M674.8 1676.6L669.6 1677.0M675.0 1680.3L669.9 1680.7M675.3 1684.0L670.1 1684.4M675.6 1687.7L670.4 1688.1M675.8 1691.4L670.6 1691.8M676.1 1695.1L670.9 1695.4M676.3 1698.8L671.2 1699.1M676.6 1702.5L671.4 1702.8M676.9 1706.2L671.7 1706.5M677.1 1709.8L671.9 1710.2M677.4 1713.5L672.2 1713.9M677.7 1717.2L672.5 1717.6M677.9 1720.9L672.8 1721.3M678.2 1724.6L673.0 1725.0M678.5 1728.3L673.3 1728.7M678.8 1732.0L673.6 1732.4M679.1 1735.7L673.9 1736.0M679.3 1739.3L674.2 1739.7M679.6 1743.0L674.4 1743.4M679.9 1746.7L674.7 1747.1M680.2 1750.4L675.0 1750.8M680.4 1754.1L675.3 1754.5M680.8 1757.7L675.6 1758.2M681.2 1761.4L676.0 1761.9M681.5 1765.1L676.4 1765.6M681.9 1768.8L676.7 1769.3M682.3 1772.4L677.1 1773.0M682.6 1776.1L677.5 1776.7M683.0 1779.8L677.8 1780.3M683.4 1783.5L678.2 1784.0M683.8 1787.2L678.6 1787.7M684.6 1790.4L679.5 1791.7M685.5 1794.0L680.4 1795.3M686.4 1797.6L681.3 1798.8M961.6 1844.0L956.4 1844.4M961.9 1847.7L956.7 1848.1M962.2 1851.4L957.1 1851.8M962.5 1855.1L957.4 1855.5M971.9 1826.0L976.9 1827.5M973.0 1822.4L978.0 1823.9M974.1 1818.9L979.0 1820.4M975.1 1815.4L980.1 1816.9M975.8 1812.0L980.9 1813.0M976.5 1808.4L981.6 1809.3M977.2 1804.7L982.3 1805.7M977.8 1801.1L983.0 1802.1M978.5 1797.5L983.6 1798.4M979.1 1793.9L984.3 1794.7M979.7 1790.2L984.8 1791.0M980.2 1786.6L985.3 1787.4M980.8 1782.9L985.9 1783.7M981.3 1779.3L986.4 1780.0M981.9 1775.6L987.0 1776.4M982.4 1772.0L987.5 1772.7M982.8 1768.3L988.0 1769.0M983.3 1764.7L988.5 1765.3M983.8 1761.0L988.9 1761.6M984.2 1757.3L989.4 1758.0M984.7 1753.6L989.8 1754.3M985.1 1750.0L990.3 1750.6M985.6 1746.3L990.8 1747.0M986.1 1742.6L991.2 1743.3M986.5 1739.0L991.7 1739.6M987.0 1735.3L992.1 1735.9M987.4 1731.6L992.6 1732.3M987.9 1727.9L993.0 1728.6M988.3 1724.3L993.5 1724.9M988.8 1720.6L994.0 1721.3M989.3 1716.9L994.4 1717.6M989.7 1713.3L994.9 1713.9M990.2 1709.6L995.3 1710.2M990.6 1705.9L995.8 1706.6M991.1 1702.2L996.3 1702.9M991.6 1698.6L996.7 1699.2M992.0 1694.9L997.2 1695.6M992.5 1691.2L997.6 1691.9M992.9 1687.6L998.1 1688.2M993.6 1683.8L998.7 1684.7M994.3 1680.1L999.4 1681.1M995.0 1676.5L1000.1 1677.5M995.7 1672.9L1000.8 1673.8M996.3 1669.2L1001.5 1670.2M997.4 1665.4L1002.4 1667.0M998.6 1661.8L1003.5 1663.5M999.7 1658.4L1004.7 1659.9M1009.1 1663.8L1003.9 1664.4M1009.5 1667.5L1004.3 1668.1M1009.9 1671.2L1004.7 1671.8M1010.3 1674.9L1005.1 1675.4M1010.7 1678.5L1005.5 1679.1M1011.1 1682.2L1005.9 1682.8M1011.5 1685.9L1006.3 1686.4M1011.9 1689.6L1006.7 1690.1M1012.2 1693.3L1007.0 1693.8M1012.5 1697.0L1007.4 1697.5M1012.9 1700.7L1007.7 1701.2M1013.2 1704.4L1008.0 1704.8M1013.6 1708.0L1008.4 1708.5M1013.9 1711.7L1008.7 1712.2M1014.2 1715.4L1009.1 1715.9M1014.6 1719.1L1009.4 1719.6M1014.9 1722.8L1009.7 1723.2M1015.2 1726.5L1010.0 1726.9M1015.5 1730.2L1010.3 1730.6M1015.8 1733.9L1010.6 1734.3M1016.1 1737.5L1010.9 1738.0M1016.4 1741.2L1011.3 1741.7M1016.8 1744.9L1011.6 1745.4M1017.1 1748.6L1011.9 1749.1M1017.5 1752.2L1012.3 1752.8M1017.9 1755.9L1012.7 1756.5M1018.3 1759.6L1013.2 1760.2M1018.8 1763.2L1013.6 1763.8M1019.2 1766.9L1014.0 1767.5M1019.6 1770.6L1014.4 1771.2M1020.0 1774.3L1014.9 1774.9M1020.5 1777.9L1015.3 1778.5M1021.0 1781.5L1015.8 1782.3M1021.6 1785.1L1016.4 1786.0M1022.2 1788.8L1017.0 1789.6M1022.8 1792.4L1017.7 1793.3M1023.4 1796.1L1018.3 1796.9M1024.0 1799.7L1018.9 1800.6M1024.8 1803.1L1019.7 1804.4M1025.7 1806.7L1020.6 1808.0M1026.6 1810.3L1021.5 1811.6M1027.4 1813.9L1022.4 1815.2M1031.7 1823.9L1026.7 1825.2M1032.6 1827.5L1027.6 1828.8M1033.5 1831.1L1028.5 1832.4" stroke="#000000" stroke-width="1.75" stroke-linecap="butt"/>
<polyline points="217.1,1995.5 219.2,1993.9 221.2,1993.8 223.4,1990.8 225.6,1990.1 227.8,1988.9 230.0,1986.0 232.2,1983.7 234.3,1982.3 236.5,1980.1 238.7,1980.5 240.9,1979.0 243.0,1978.5 245.0,1976.8 247.0,1974.8 249.1,1975.7 251.6,1976.6 254.0,1978.2 256.5,1977.4 258.9,1969.2 260.6,1967.1 262.2,1965.9 264.7,1967.5 267.1,1971.6 268.8,1972.1 270.4,1970.8 272.0,1972.0 273.7,1969.2 275.3,1968.1 277.0,1965.1 278.6,1966.7 280.2,1966.7 282.3,1965.2 284.3,1962.6 286.4,1959.5 288.4,1959.3 290.1,1961.1 291.7,1961.0 293.4,1961.6 295.0,1963.4 296.6,1962.1 298.3,1961.8 300.7,1963.3 303.2,1961.0 304.8,1964.4 306.5,1965.9 308.1,1970.8 311.4,1960.2 313.9,1965.9 316.3,1972.5 318.0,1969.6 319.6,1970.0 322.0,1975.7 324.5,1977.4 327.0,1974.9 329.4,1969.2 331.9,1959.3 334.3,1956.1 336.8,1960.2 339.3,1962.6 340.9,1961.0 342.5,1957.7 344.6,1955.1 346.6,1952.8 348.7,1953.4 350.7,1956.1 353.2,1951.1 354.8,1948.2 356.5,1946.2 358.9,1949.5 360.6,1951.3 362.2,1952.8 363.9,1951.9 365.5,1948.7 367.1,1952.0 368.8,1952.0 370.4,1955.2 372.0,1956.1 373.7,1955.6 375.3,1952.8 377.0,1950.2 378.6,1947.9 381.9,1941.3 385.2,1949.5 388.4,1943.0 390.1,1941.5 391.7,1939.7 393.8,1937.4 395.8,1938.0 397.9,1934.7 399.9,1931.5 402.0,1930.2 404.0,1929.8 406.1,1933.0 408.1,1935.6 410.2,1935.2 412.2,1931.5 414.3,1930.7 416.3,1929.8 418.8,1927.3 421.2,1928.2 422.9,1925.7 424.5,1925.7 426.1,1926.9 427.8,1924.9 431.1,1936.4 433.0,1935.1 435.0,1937.2 436.4,1927.5 438.2,1927.2 440.0,1925.8 441.9,1923.2 444.0,1920.9 446.2,1916.6 448.1,1916.6 449.9,1918.0 451.7,1921.0 456.1,1910.1 458.3,1910.5 460.4,1913.3 465.9,1903.5 470.3,1894.8 474.6,1883.8 479.0,1875.1 483.4,1864.2 486.7,1853.2 489.9,1837.9 494.3,1827.0 498.7,1816.1 502.0,1809.5 505.2,1794.2 509.6,1783.3 512.9,1770.2 516.2,1759.2 518.4,1756.1 520.5,1752.7 524.9,1743.9 528.2,1733.0 530.4,1711.1 533.7,1702.4 536.9,1689.3 539.1,1667.4 542.4,1639.0 544.0,1636.9 545.7,1634.6 547.9,1612.8 549.0,1582.5 552.2,1560.7 554.4,1527.9 558.5,1495.1 562.5,1462.3 566.0,1429.5 567.8,1407.7 569.5,1381.4 571.5,1363.9 574.0,1330.0 577.0,1300.0 580.0,1285.0 583.0,1279.0 584.5,1281.0 586.1,1278.7 589.4,1284.2 590.5,1304.9 591.6,1324.6 593.8,1325.0 596.0,1325.7 597.0,1342.1 599.2,1363.9 601.4,1385.8 604.7,1409.8 606.9,1423.0 609.1,1440.4 611.3,1457.9 614.5,1466.7 617.4,1478.7 620.0,1462.3 622.2,1460.1 625.5,1473.2 627.7,1455.7 629.3,1454.7 630.9,1453.6 632.5,1452.6 634.2,1451.4 636.4,1429.5 637.5,1407.7 639.7,1390.2 641.9,1385.8 644.0,1353.0 645.1,1313.7 647.5,1280.0 650.0,1250.0 653.0,1225.0 655.8,1212.0 657.2,1217.0 660.4,1232.8 662.6,1265.6 664.8,1309.3 667.0,1363.9 669.2,1418.6 671.4,1484.2 673.6,1549.7 674.5,1590.0 675.7,1623.7 679.0,1678.4 681.2,1722.1 684.5,1765.8 687.8,1798.6 689.9,1831.4 692.1,1853.2 695.4,1859.8 697.6,1875.1 700.9,1886.0 702.7,1886.8 704.5,1889.2 706.3,1892.6 708.5,1895.4 710.7,1892.3 712.9,1894.8 714.7,1894.6 716.5,1897.3 718.4,1896.9 720.2,1897.7 722.0,1898.0 723.8,1901.3 725.6,1899.2 727.5,1898.2 729.3,1895.8 734.8,1905.7 736.5,1902.9 738.3,1902.7 740.0,1903.5 741.9,1900.7 743.7,1899.1 744.8,1894.8 749.2,1906.8 751.0,1905.8 752.8,1902.6 754.6,1900.2 756.8,1899.0 759.0,1895.6 761.2,1893.7 763.4,1897.4 765.6,1899.1 767.4,1901.4 769.2,1900.7 771.0,1901.3 772.9,1900.9 774.7,1901.7 776.5,1903.5 778.7,1908.1 780.9,1910.1 783.1,1906.9 785.2,1903.5 787.4,1901.3 789.6,1898.0 791.8,1900.8 794.0,1902.4 796.2,1898.8 798.4,1895.8 802.7,1905.7 804.9,1905.0 807.1,1901.3 808.9,1899.5 810.7,1898.1 812.6,1899.1 814.4,1896.6 816.2,1899.5 818.0,1896.9 820.2,1900.9 822.4,1902.4 824.6,1902.1 826.8,1900.8 829.0,1903.5 831.1,1902.1 833.3,1898.2 835.5,1898.0 837.7,1898.8 839.9,1900.6 842.1,1901.3 844.3,1903.9 846.4,1903.3 848.6,1905.7 850.5,1903.7 852.3,1904.5 854.1,1901.3 855.9,1898.4 857.7,1900.2 859.6,1898.0 861.7,1898.6 863.9,1901.4 866.1,1903.5 868.3,1902.7 870.5,1901.8 872.7,1904.6 874.9,1906.6 877.0,1910.4 879.2,1912.2 881.4,1911.0 883.6,1907.5 885.8,1906.8 888.0,1906.2 890.2,1909.8 892.3,1910.1 894.5,1909.3 896.7,1905.0 898.9,1903.5 901.1,1905.5 903.3,1908.0 905.5,1912.2 912.0,1901.3 914.2,1900.7 916.4,1903.2 918.6,1903.5 920.8,1901.4 923.0,1899.2 925.1,1895.8 927.3,1897.2 929.5,1898.8 931.7,1899.1 933.9,1896.7 936.1,1893.0 938.3,1890.4 940.4,1887.5 942.6,1889.2 944.8,1888.2 947.0,1887.8 949.2,1887.9 951.4,1886.0 953.6,1883.4 955.7,1885.8 957.9,1883.8 959.6,1883.2 961.2,1879.6 963.0,1876.8 964.7,1874.8 967.1,1875.9 969.5,1877.2 971.9,1875.6 974.2,1873.6 976.6,1872.1 979.0,1870.1 981.3,1869.3 983.7,1868.9 985.7,1868.6 987.7,1864.7 989.6,1863.0 993.2,1853.5 995.0,1850.7 996.7,1848.7 1001.5,1860.6 1003.9,1855.7 1006.2,1853.5 1008.6,1852.2 1011.0,1848.7 1013.3,1847.7 1015.7,1845.2 1017.5,1843.7 1019.3,1841.6 1021.2,1841.2 1023.2,1838.5 1025.2,1839.3 1027.2,1837.2 1029.1,1839.2 1031.1,1839.3 1032.9,1837.1 1034.7,1836.9 1038.2,1846.4 1040.6,1844.2 1043.0,1844.0 1045.3,1847.7 1047.7,1848.7 1050.1,1848.2 1052.4,1849.9 1054.8,1846.7 1057.2,1844.0 1060.7,1834.5 1064.3,1827.4 1067.9,1815.6 1069.6,1816.2 1071.4,1813.2 1076.1,1825.0 1078.5,1828.0 1080.9,1828.6 1084.4,1834.5 1089.2,1844.0 1091.6,1847.8 1093.9,1851.1 1099.9,1860.6 1102.2,1864.1 1104.6,1867.7 1107.0,1871.3 1109.3,1872.4 1111.7,1871.7 1114.1,1872.4 1116.4,1873.3 1118.8,1877.2 1123.6,1886.7 1128.3,1895.0 1130.7,1897.7 1133.0,1898.5 1135.4,1897.8 1137.8,1895.0 1140.1,1897.4 1142.5,1900.9 1144.9,1903.6 1147.3,1905.6 1149.6,1900.8 1152.0,1898.5 1154.4,1895.8 1156.7,1896.1 1159.1,1900.1 1161.5,1903.3 1163.9,1906.2 1166.2,1910.4 1168.6,1913.2 1171.0,1916.3 1173.3,1919.2 1175.7,1917.5 1178.1,1917.7 1180.4,1915.1 1182.8,1916.8 1185.2,1919.9 1187.6,1924.3 1189.9,1927.0 1192.3,1925.1 1194.7,1922.2 1197.0,1926.1 1199.4,1928.1 1201.8,1924.9 1204.1,1924.6 1206.5,1929.1 1208.9,1930.5 1211.3,1926.8 1213.6,1925.8 1216.0,1929.5 1218.4,1931.7 1220.7,1931.7 1223.1,1928.1 1225.5,1926.1 1227.9,1922.2 1232.6,1930.5 1235.0,1932.7 1237.3,1934.1 1239.7,1929.2 1242.1,1927.0 1244.4,1929.3 1246.8,1932.9 1249.2,1936.6 1251.6,1938.8 1253.9,1936.9 1256.3,1934.1 1258.3,1932.5 1260.2,1932.5 1262.2,1932.9" stroke="#00ffff" stroke-width="5.8" />
<polyline points="217.1,1994.2 219.6,1993.0 222.0,1993.6 224.5,1992.1 227.0,1992.0 229.4,1990.5 231.9,1987.9 234.3,1985.6 236.8,1982.8 239.3,1980.7 241.7,1979.1 244.2,1979.0 245.8,1980.5 247.5,1980.7 249.5,1982.4 251.6,1985.6 253.6,1989.5 255.7,1992.1 258.1,1994.1 260.6,1997.0 263.0,1996.7 265.5,1997.9 268.0,1997.2 270.4,1997.0 272.6,1997.2 274.8,1997.9 277.0,1998.7 279.2,1998.1 281.3,1996.9 283.5,1997.0 285.7,1998.3 287.9,1996.6 290.1,1997.9 292.3,1997.0 294.5,1999.3 296.6,1998.7 298.8,1997.4 301.0,1999.3 303.2,1998.7 305.4,1997.7 307.6,1997.6 309.8,1997.9 311.8,1997.5 313.9,1998.0 315.9,1998.6 318.0,1998.7 320.0,1998.9 322.0,1997.1 324.1,1997.7 326.1,1997.0 328.2,1996.2 330.2,1996.8 332.3,1997.0 334.3,1997.0 336.4,1997.2 338.4,1997.8 340.5,1995.5 342.5,1996.2 344.6,1995.6 346.6,1996.1 348.7,1994.6 350.7,1995.4 352.8,1995.5 354.8,1994.0 356.9,1993.9 358.9,1993.8 361.0,1993.5 363.0,1993.9 365.1,1995.9 367.1,1995.4 369.2,1995.9 371.2,1994.7 373.3,1993.2 375.3,1993.8 377.4,1993.4 379.4,1993.9 381.5,1993.2 383.5,1993.0 385.6,1992.6 387.6,1993.2 389.7,1992.7 391.7,1991.3 394.2,1991.4 396.6,1989.7 399.1,1989.0 401.6,1990.5 403.7,1988.6 405.9,1987.9 408.1,1988.0 410.2,1988.4 412.2,1987.9 414.3,1986.4 416.3,1986.4 418.4,1986.2 420.4,1984.9 422.5,1984.4 424.5,1984.8 426.6,1985.6 428.7,1985.6 430.8,1984.8 432.9,1985.9 435.0,1985.6 436.4,1980.4 438.0,1979.1 439.7,1980.0 441.9,1979.9 444.0,1979.6 446.2,1977.8 448.4,1978.2 450.6,1978.1 452.8,1976.7 455.0,1975.5 457.2,1974.5 459.3,1973.4 461.5,1972.9 463.7,1973.0 465.9,1971.3 468.1,1969.3 470.3,1969.2 472.5,1966.9 474.6,1963.5 476.8,1961.3 479.0,1958.1 481.2,1955.2 483.4,1951.7 485.6,1949.4 491.0,1940.7 492.9,1937.1 494.7,1934.3 496.5,1931.9 498.3,1929.7 500.1,1926.8 502.0,1924.3 503.8,1924.5 505.6,1922.6 507.4,1922.1 509.3,1920.2 511.1,1919.2 512.9,1917.7 514.7,1915.2 516.5,1913.9 518.4,1912.2 520.2,1912.8 522.0,1912.7 523.8,1911.1 525.6,1909.9 527.5,1907.1 529.3,1905.7 534.8,1896.9 539.1,1886.0 543.5,1875.1 547.9,1855.4 551.1,1833.6 554.4,1800.8 557.7,1757.0 561.0,1702.4 563.2,1658.7 565.4,1615.0 567.2,1590.0 569.2,1571.6 570.6,1506.0 571.9,1440.4 573.2,1375.0 574.5,1320.0 576.0,1265.0 577.5,1232.0 579.2,1215.0 580.6,1232.0 581.7,1265.0 583.0,1320.0 584.3,1375.0 585.9,1440.0 587.3,1506.0 588.4,1560.0 589.3,1600.0 590.5,1640.0 592.5,1690.0 595.5,1745.0 599.5,1790.0 604.7,1827.0 606.9,1829.8 609.1,1831.4 611.2,1828.7 613.4,1827.0 615.6,1824.0 617.8,1822.6 619.6,1821.1 621.5,1820.1 623.3,1820.4 626.6,1811.7 629.8,1798.6 633.0,1770.0 636.0,1730.0 638.5,1690.0 640.7,1650.0 642.6,1610.0 644.0,1571.6 645.5,1506.0 647.0,1440.0 648.3,1375.0 649.4,1320.0 650.5,1265.0 651.5,1232.0 652.5,1215.0 653.6,1232.0 655.2,1265.0 657.0,1320.0 659.0,1375.0 661.3,1440.0 663.4,1506.0 665.3,1571.6 666.8,1630.0 668.5,1680.0 670.5,1740.0 673.0,1790.0 676.0,1835.0 680.1,1875.1 683.4,1903.5 686.7,1921.0 688.9,1923.9 691.0,1927.5 695.4,1936.3 697.2,1937.0 699.1,1940.0 700.9,1940.7 702.5,1941.7 704.2,1942.8 706.0,1942.2 707.8,1942.0 709.6,1940.7 711.4,1942.4 713.3,1943.7 715.1,1945.0 717.3,1946.6 719.5,1947.0 721.6,1949.4 723.8,1948.8 726.0,1947.9 728.2,1946.1 730.4,1946.5 732.6,1947.5 734.8,1947.2 736.5,1948.3 738.3,1948.5 740.0,1947.2 741.9,1948.7 743.7,1949.4 745.9,1947.3 748.1,1947.6 750.3,1946.1 752.5,1946.4 754.6,1946.6 756.8,1948.3 759.0,1949.2 761.2,1951.6 763.4,1951.1 765.6,1950.4 767.8,1949.4 769.9,1950.0 772.1,1949.1 774.3,1948.3 776.5,1948.4 778.7,1949.7 780.9,1951.6 783.1,1950.0 785.2,1947.9 787.4,1947.2 789.6,1946.5 791.8,1945.7 794.0,1945.0 796.2,1948.0 798.4,1950.5 800.5,1951.1 802.7,1950.5 804.9,1949.4 807.1,1949.3 809.3,1947.2 811.5,1946.1 813.7,1946.7 815.8,1947.9 818.0,1949.4 820.2,1949.7 822.4,1947.2 824.6,1947.2 826.4,1947.0 828.2,1946.2 830.1,1945.0 831.9,1945.9 833.7,1947.7 835.5,1948.3 837.7,1947.4 839.9,1948.3 842.1,1947.2 844.3,1945.2 846.4,1943.8 848.6,1942.8 850.8,1942.6 853.0,1940.7 855.2,1942.0 857.4,1942.2 859.6,1941.7 861.7,1940.0 863.9,1939.0 866.1,1938.5 868.3,1939.0 870.5,1940.2 872.7,1940.7 874.9,1941.9 877.0,1943.9 879.2,1941.5 881.4,1938.5 883.6,1937.0 885.8,1934.1 888.0,1933.6 890.2,1931.9 892.3,1929.4 894.5,1927.5 896.7,1925.8 898.9,1925.8 901.1,1925.4 903.3,1923.5 905.5,1923.8 907.7,1922.1 909.8,1919.1 912.0,1916.3 914.2,1914.4 916.4,1911.6 918.6,1907.9 920.8,1906.4 923.0,1903.5 925.1,1900.7 927.3,1898.0 929.5,1895.3 931.7,1892.6 933.5,1890.8 935.3,1890.7 937.2,1889.3 939.0,1890.3 940.8,1892.4 942.6,1894.8 944.4,1893.4 946.3,1892.9 948.1,1892.6 953.6,1883.8 955.7,1881.2 957.9,1879.5 960.0,1884.3 963.6,1870.1 967.1,1863.0 970.7,1851.1 974.2,1832.1 977.8,1810.8 981.3,1780.0 984.9,1732.6 988.4,1685.2 992.0,1637.8 995.6,1590.4 998.4,1543.0 1000.8,1507.4 1002.7,1488.4 1003.9,1484.9 1005.5,1495.6 1007.4,1531.1 1009.8,1578.5 1012.6,1625.9 1015.7,1673.3 1019.3,1720.7 1022.1,1756.3 1025.2,1780.0 1028.7,1801.3 1032.3,1815.6 1035.9,1829.8 1038.2,1830.9 1040.6,1832.1 1044.1,1839.3 1046.5,1838.7 1048.9,1836.9 1051.3,1839.8 1053.6,1841.6 1056.0,1838.6 1058.4,1834.5 1060.1,1832.7 1061.9,1829.8 1064.3,1830.7 1066.7,1829.8 1070.2,1822.7 1073.8,1813.2 1077.3,1807.3 1080.9,1815.6 1083.3,1814.6 1085.6,1815.6 1089.2,1825.0 1092.7,1832.1 1094.5,1835.3 1096.3,1836.9 1099.9,1848.7 1101.6,1850.0 1103.4,1851.1 1105.8,1855.0 1108.1,1858.2 1110.5,1859.8 1112.9,1861.8 1115.3,1863.3 1117.6,1865.3 1120.0,1864.1 1122.4,1863.0 1124.3,1865.6 1126.3,1867.9 1128.3,1870.1 1130.3,1868.3 1132.2,1869.5 1134.2,1867.7 1136.6,1869.1 1139.0,1868.9 1141.3,1867.1 1143.7,1865.3 1146.1,1868.5 1148.4,1871.3 1152.0,1863.0 1155.6,1871.3 1157.9,1872.6 1160.3,1872.4 1162.7,1870.5 1165.0,1870.1 1167.4,1866.9 1169.8,1863.0 1172.1,1863.5 1174.5,1861.8 1178.1,1870.1 1181.6,1881.9 1183.4,1883.5 1185.2,1886.7 1188.7,1893.8 1191.1,1895.8 1193.5,1896.1 1195.5,1898.0 1197.4,1897.9 1199.4,1899.7 1201.2,1901.0 1203.0,1901.8 1204.7,1901.8 1206.5,1903.3 1208.5,1902.2 1210.5,1902.7 1212.4,1900.9 1214.8,1899.4 1217.2,1899.7 1219.2,1900.5 1221.1,1903.3 1223.1,1904.4 1225.1,1904.1 1227.1,1902.4 1229.0,1900.9 1231.0,1902.3 1233.0,1901.4 1235.0,1903.3 1236.7,1904.2 1238.5,1904.0 1240.3,1904.3 1242.1,1904.4 1244.0,1905.7 1246.0,1906.3 1248.0,1905.6 1250.0,1905.3 1252.0,1904.3 1253.9,1903.3 1256.0,1902.9 1258.1,1904.4 1260.1,1902.7 1262.2,1903.3" stroke="#0000ff" stroke-width="5.8" />
<polyline points="217.1,1995.4 219.6,1993.8 222.0,1992.2 224.5,1990.5 227.0,1989.6 229.4,1988.9 231.9,1989.6 234.3,1990.5 236.8,1992.8 239.3,1995.4 241.7,1996.1 244.2,1997.9 246.4,1998.0 248.6,1998.5 250.7,1998.7 252.7,1998.4 254.7,1998.1 256.6,1998.3 258.6,1998.4 260.6,1998.7 262.6,1998.1 264.7,1997.7 266.7,1998.8 268.8,1997.9 270.8,1997.8 272.9,1996.9 274.9,1997.3 277.0,1997.0 279.2,1996.2 281.3,1994.9 283.5,1993.0 285.2,1994.4 286.8,1995.4 289.0,1995.4 291.2,1996.5 293.4,1997.0 295.4,1997.8 297.5,1997.8 299.5,1998.9 301.6,1998.7 303.6,1999.0 305.7,1998.3 307.7,1997.9 309.8,1998.7 311.8,1998.8 313.9,1998.2 315.9,1998.6 318.0,1997.9 320.0,1997.5 322.0,1998.1 324.1,1998.5 326.1,1998.7 328.2,1999.1 330.2,1998.7 332.3,1999.1 334.3,1998.7 336.4,1999.0 338.4,1998.8 340.5,1998.1 342.5,1997.9 344.6,1997.8 346.6,1998.0 348.7,1998.1 350.7,1998.7 352.8,1999.1 354.8,1998.5 356.9,1997.8 358.9,1997.9 361.0,1997.5 363.0,1996.8 365.1,1997.0 367.1,1997.0 369.2,1997.9 371.2,1998.1 373.3,1997.5 375.3,1997.9 377.4,1997.4 379.4,1998.0 381.5,1997.5 383.5,1997.0 385.6,1997.3 387.6,1997.6 389.7,1997.8 391.7,1997.9 393.8,1997.2 395.8,1996.9 397.9,1995.4 399.9,1995.4 402.0,1994.1 404.0,1993.9 406.1,1992.6 408.1,1992.1 410.2,1991.6 412.2,1991.0 414.3,1991.3 416.3,1990.5 418.4,1989.5 420.4,1989.6 422.5,1989.5 424.5,1988.9 426.6,1989.6 428.7,1989.2 430.8,1989.2 432.9,1990.2 435.0,1990.5 436.4,1990.9 438.2,1990.7 440.0,1990.2 441.9,1990.9 444.0,1991.1 446.2,1990.3 448.4,1989.1 450.6,1988.9 452.8,1988.7 455.0,1987.8 457.2,1987.1 459.3,1986.0 461.5,1985.9 463.7,1984.4 465.9,1983.6 468.1,1982.9 470.3,1982.1 472.5,1981.2 474.6,1980.0 476.8,1977.9 479.0,1975.3 481.2,1973.9 483.4,1971.6 485.6,1969.1 487.8,1966.1 489.9,1964.3 492.1,1960.9 494.3,1959.0 496.5,1956.0 498.7,1954.3 500.9,1951.2 503.1,1949.6 505.2,1947.0 507.4,1945.0 509.6,1943.4 511.8,1940.7 514.0,1939.9 516.2,1938.5 517.8,1939.0 519.5,1940.7 521.3,1938.3 523.1,1936.4 524.9,1934.1 531.5,1923.2 538.0,1912.2 542.4,1903.5 546.8,1892.6 551.1,1879.5 554.4,1859.8 557.7,1831.4 561.0,1787.7 563.2,1743.9 565.4,1689.3 567.5,1634.6 568.5,1590.0 569.8,1571.6 571.0,1506.0 572.2,1440.4 573.5,1375.0 574.7,1320.0 576.1,1265.0 577.5,1232.0 579.0,1215.0 580.4,1232.0 581.5,1265.0 582.8,1320.0 584.1,1375.0 585.7,1440.0 587.1,1506.0 588.3,1571.6 590.5,1640.0 592.5,1700.0 596.0,1790.0 600.5,1827.0 604.9,1852.0 609.2,1866.0 610.8,1866.5 612.3,1868.0 614.5,1864.8 616.7,1862.0 618.9,1859.9 621.1,1857.6 625.5,1848.9 628.7,1831.4 630.9,1809.5 633.1,1787.7 635.3,1754.9 637.5,1711.1 640.0,1660.0 642.3,1610.0 643.8,1571.6 645.3,1506.0 646.9,1440.0 648.2,1375.0 649.3,1320.0 650.4,1265.0 651.4,1232.0 652.4,1215.0 653.5,1232.0 655.0,1265.0 656.8,1320.0 658.8,1375.0 661.0,1440.0 663.0,1506.0 665.3,1667.4 667.4,1754.9 669.5,1820.4 672.6,1875.1 675.8,1909.0 679.1,1931.5 683.5,1949.5 685.8,1953.0 688.0,1956.5 690.2,1958.2 692.4,1959.0 696.8,1968.0 698.5,1970.0 700.3,1971.3 702.0,1972.5 704.2,1973.4 706.3,1973.9 708.5,1974.1 710.7,1974.6 712.9,1975.9 715.1,1976.3 717.3,1977.3 719.5,1978.0 721.6,1978.3 723.8,1978.3 726.0,1979.0 728.2,1979.1 730.4,1978.8 732.6,1979.6 734.8,1980.0 736.5,1980.2 738.3,1980.5 740.0,1980.0 741.9,1978.7 743.7,1978.3 745.9,1978.7 748.1,1980.3 750.3,1980.4 752.5,1981.5 754.6,1981.3 756.8,1981.5 759.0,1982.0 761.2,1982.6 763.4,1983.1 765.6,1983.1 767.8,1983.8 769.9,1983.7 772.1,1983.1 774.3,1982.7 776.5,1983.6 778.7,1982.6 780.9,1982.5 783.1,1981.5 785.2,1981.9 787.4,1981.5 789.6,1981.5 791.8,1982.9 794.0,1983.7 796.2,1983.7 798.4,1984.4 800.5,1984.4 802.7,1984.3 804.9,1984.8 807.1,1983.9 809.3,1984.0 811.5,1983.4 813.7,1983.7 815.8,1984.4 818.0,1984.9 820.2,1985.3 822.4,1985.9 824.6,1986.6 826.8,1986.6 829.0,1987.0 831.1,1987.0 833.3,1985.7 835.5,1985.2 837.7,1984.8 839.9,1984.6 842.1,1985.1 844.3,1984.9 846.4,1985.9 848.6,1985.6 850.8,1984.2 853.0,1983.7 855.2,1984.0 857.4,1984.5 859.6,1984.0 861.7,1984.8 863.9,1984.5 866.1,1985.1 868.3,1985.9 870.5,1985.1 872.7,1983.9 874.9,1982.6 877.0,1983.6 879.2,1983.4 881.4,1983.0 883.6,1983.7 885.8,1983.4 888.0,1982.7 890.2,1982.7 892.3,1981.5 894.5,1980.3 896.7,1979.1 898.9,1978.3 901.1,1976.8 903.3,1974.6 905.5,1972.8 907.7,1970.8 909.8,1969.5 911.7,1967.2 913.5,1965.9 915.3,1964.0 917.5,1960.7 919.7,1957.5 921.9,1955.8 924.0,1953.1 926.2,1954.8 928.4,1957.5 930.6,1956.4 932.8,1957.0 935.0,1956.4 936.8,1955.6 938.6,1955.6 940.4,1955.3 942.6,1956.5 944.8,1957.7 947.0,1958.1 949.2,1956.7 951.4,1955.3 953.2,1953.4 955.0,1951.2 956.8,1949.4 960.0,1941.2 961.8,1938.4 963.6,1936.4 967.1,1927.0 970.7,1917.5 974.2,1900.9 977.8,1877.2 981.3,1841.6 984.9,1794.2 988.4,1746.8 992.0,1699.4 995.6,1652.0 998.4,1625.9 1000.8,1614.1 1002.7,1611.7 1005.0,1621.2 1006.9,1654.4 1009.3,1699.4 1011.7,1746.8 1014.5,1794.2 1018.1,1841.6 1021.6,1877.2 1026.4,1900.9 1031.1,1917.5 1033.5,1921.3 1035.9,1924.6 1038.2,1928.1 1040.6,1931.7 1042.6,1931.4 1044.5,1932.4 1046.5,1932.9 1048.3,1930.7 1050.1,1928.1 1054.8,1936.4 1056.6,1935.2 1058.4,1935.2 1060.1,1935.1 1061.9,1934.1 1064.3,1924.6 1069.0,1915.1 1071.4,1911.7 1073.8,1908.0 1076.1,1907.8 1078.5,1908.0 1080.3,1908.6 1082.1,1910.4 1085.6,1917.5 1089.2,1927.0 1092.7,1936.4 1096.3,1943.6 1098.3,1946.3 1100.2,1949.7 1102.2,1953.0 1104.2,1954.8 1106.2,1956.7 1108.1,1957.8 1110.1,1959.9 1112.1,1961.5 1114.1,1962.5 1116.0,1962.6 1118.0,1964.6 1120.0,1964.9 1122.0,1965.7 1124.0,1967.3 1125.9,1968.4 1127.7,1967.9 1129.5,1968.6 1131.3,1967.1 1133.0,1967.3 1134.8,1966.6 1136.6,1968.0 1138.4,1967.6 1140.1,1967.3 1141.9,1967.7 1143.7,1968.6 1145.5,1969.1 1147.3,1969.6 1149.0,1967.7 1150.8,1967.2 1152.6,1965.7 1154.4,1963.7 1156.3,1963.1 1158.3,1964.2 1160.3,1963.7 1162.7,1961.9 1165.0,1960.1 1168.6,1954.2 1170.4,1954.8 1172.1,1956.6 1174.5,1956.9 1176.9,1957.8 1178.7,1959.8 1180.4,1961.3 1184.0,1970.8 1187.6,1979.1 1189.9,1981.1 1192.3,1983.9 1194.3,1984.6 1196.2,1985.6 1198.2,1986.2 1200.0,1986.5 1201.8,1987.0 1203.6,1988.0 1205.3,1988.6 1207.1,1989.6 1208.9,1991.0 1210.8,1991.0 1212.7,1990.2 1214.6,1990.1 1216.5,1990.7 1218.4,1989.8 1220.1,1990.5 1221.9,1990.8 1223.7,1990.3 1225.5,1991.0 1227.3,1991.3 1229.0,1991.7 1230.8,1991.5 1232.6,1992.1 1234.4,1993.0 1236.1,1992.1 1237.9,1993.5 1239.7,1993.3 1241.5,1993.7 1243.3,1993.8 1245.0,1993.9 1246.8,1993.3 1248.6,1994.0 1250.4,1994.3 1252.1,1994.6 1253.9,1994.5 1256.0,1993.9 1258.1,1994.5 1260.1,1993.8 1262.2,1994.5" stroke="#ff00ff" stroke-width="5.8" />
<polyline points="217.1,1996.1 218.8,1995.4 220.4,1995.4 222.0,1997.0 224.1,1996.0 226.1,1997.0 228.2,1995.8 230.2,1994.6 231.9,1992.3 233.5,1990.5 236.8,1983.9 239.3,1987.2 241.7,1991.3 243.8,1993.1 245.8,1993.0 248.3,1994.2 250.7,1993.0 253.2,1992.3 255.7,1993.8 258.1,1995.4 260.6,1996.2 263.0,1995.1 265.5,1992.1 268.0,1992.1 270.4,1993.0 272.9,1991.3 275.3,1990.5 277.4,1989.7 279.4,1990.5 281.5,1990.5 283.5,1988.9 286.0,1989.6 288.4,1990.5 290.9,1990.7 293.4,1988.9 295.8,1990.2 298.3,1992.1 300.7,1993.7 303.2,1993.0 305.7,1994.9 308.1,1995.4 310.6,1993.7 313.0,1993.8 315.1,1993.5 317.1,1993.8 319.2,1994.6 321.2,1995.4 322.9,1994.4 324.5,1992.1 327.0,1997.9 328.6,1997.0 330.2,1997.9 331.9,1996.9 333.5,1995.4 336.0,1992.1 338.4,1993.0 340.9,1993.8 343.4,1994.1 345.8,1993.0 348.3,1992.3 350.7,1990.5 353.2,1991.5 355.7,1990.5 358.1,1990.7 360.6,1989.7 363.0,1990.7 365.5,1990.5 367.5,1989.1 369.6,1988.9 371.6,1990.9 373.7,1992.1 375.7,1989.2 377.8,1987.2 379.8,1985.8 381.9,1986.4 384.3,1987.2 386.8,1988.9 388.4,1987.6 390.1,1985.6 392.5,1980.7 395.8,1986.4 397.9,1985.4 399.9,1983.1 402.0,1984.0 404.0,1984.8 406.1,1985.5 408.1,1983.9 410.6,1983.8 413.0,1982.3 415.5,1980.8 418.0,1980.7 420.4,1979.7 422.9,1979.0 425.3,1979.0 427.8,1979.8 429.4,1981.6 431.1,1981.5 433.0,1981.2 435.0,1981.5 436.4,1981.1 438.2,1981.0 440.0,1982.9 441.9,1983.3 443.7,1982.9 445.5,1982.8 447.3,1981.1 449.1,1980.3 451.0,1979.9 452.8,1980.0 456.1,1974.5 457.7,1974.7 459.3,1973.4 461.5,1976.0 463.7,1977.8 465.9,1977.4 468.1,1975.6 469.9,1974.3 471.7,1973.2 473.6,1973.4 475.4,1971.9 477.2,1971.7 479.0,1971.3 480.8,1969.6 482.7,1968.9 484.5,1969.1 486.3,1966.9 488.1,1963.9 489.9,1962.5 491.8,1962.8 493.6,1961.5 495.4,1960.3 499.8,1951.6 501.4,1950.6 503.1,1951.6 505.2,1947.8 507.4,1945.0 509.6,1943.4 511.8,1940.7 514.0,1940.9 516.2,1942.8 518.4,1944.3 520.5,1947.2 523.8,1938.5 528.2,1927.5 530.4,1929.4 532.6,1931.9 535.8,1923.2 538.0,1922.5 540.2,1921.0 544.6,1912.2 549.0,1903.5 553.3,1886.0 556.6,1868.5 559.9,1842.3 562.1,1809.5 564.3,1765.8 566.4,1711.1 568.6,1656.5 570.8,1601.9 571.9,1580.0 573.0,1506.0 574.0,1440.0 575.3,1375.0 576.7,1320.0 578.0,1265.0 579.4,1232.0 580.6,1214.0 582.0,1265.0 584.0,1330.0 586.0,1420.0 588.0,1520.0 589.5,1600.0 591.0,1680.0 592.7,1754.9 596.0,1798.6 599.2,1827.0 603.6,1848.9 608.0,1866.3 610.1,1868.2 612.3,1869.6 614.5,1870.7 616.7,1870.7 618.9,1872.5 621.1,1874.0 625.5,1866.3 627.3,1863.5 629.1,1861.3 630.9,1859.8 635.3,1842.3 638.6,1809.5 640.8,1776.7 643.0,1733.0 645.1,1678.4 647.3,1623.7 648.4,1580.0 649.3,1506.0 650.2,1440.0 651.0,1375.0 651.6,1320.0 652.2,1265.0 652.8,1232.0 653.3,1215.0 654.2,1232.0 655.3,1265.0 656.6,1320.0 658.4,1375.0 660.2,1440.0 661.8,1506.0 662.3,1571.6 663.0,1630.0 666.1,1667.4 668.3,1754.9 670.5,1820.4 673.8,1874.0 677.0,1906.5 680.3,1928.5 684.7,1946.0 686.9,1949.4 689.1,1952.5 691.2,1953.3 693.4,1954.5 697.8,1962.5 700.0,1963.5 702.3,1966.0 704.4,1965.4 706.5,1966.9 708.6,1966.5 710.7,1968.0 712.9,1969.3 715.1,1969.5 717.3,1970.6 719.5,1970.3 721.6,1972.3 723.8,1972.1 726.0,1972.3 728.0,1971.3 730.0,1973.8 732.0,1973.8 734.0,1973.4 736.0,1972.4 738.0,1973.2 740.0,1973.4 741.9,1973.1 743.7,1971.3 745.9,1972.2 748.1,1972.9 750.3,1973.4 752.5,1972.7 754.6,1973.2 756.8,1974.5 759.0,1973.2 761.2,1972.3 763.4,1971.3 765.6,1973.0 767.8,1972.1 769.9,1973.4 772.1,1974.8 774.3,1975.0 776.5,1974.5 778.7,1974.5 780.9,1973.2 783.1,1972.5 785.2,1971.3 787.4,1971.9 789.6,1972.5 791.8,1973.4 794.0,1971.8 796.2,1972.1 798.4,1970.2 800.5,1971.9 802.7,1972.7 804.9,1973.4 806.8,1973.3 808.7,1972.0 810.7,1970.4 812.6,1969.1 814.5,1970.3 816.4,1972.0 818.3,1972.8 820.2,1973.4 822.4,1974.1 824.6,1975.3 826.8,1975.8 829.0,1975.6 831.1,1974.1 833.3,1973.4 835.5,1974.6 837.7,1973.4 839.9,1973.3 842.1,1973.7 844.3,1972.3 846.4,1973.0 848.6,1972.7 850.8,1974.6 853.0,1974.5 855.2,1973.2 857.4,1973.0 859.6,1971.3 861.7,1971.1 863.9,1972.0 866.1,1971.3 868.3,1972.6 870.5,1973.6 872.7,1974.5 874.9,1976.0 877.0,1975.7 879.2,1975.6 881.4,1973.8 883.6,1974.8 885.8,1973.4 888.0,1971.8 890.2,1970.5 892.3,1970.2 894.5,1968.7 896.7,1970.4 898.9,1969.1 901.1,1969.1 903.3,1968.7 905.5,1966.9 907.7,1965.9 909.8,1963.6 911.7,1963.3 913.5,1960.5 915.3,1960.3 917.5,1958.9 919.7,1956.0 923.0,1949.4 925.1,1947.6 927.3,1947.2 929.5,1946.5 931.7,1943.9 933.9,1946.8 936.1,1949.4 938.3,1950.3 940.4,1949.4 942.6,1949.9 944.8,1949.8 947.0,1950.5 949.2,1948.3 951.4,1947.2 953.2,1945.6 955.0,1946.8 956.8,1945.0 958.4,1944.7 960.0,1945.9 962.4,1945.4 964.7,1943.6 968.3,1936.4 970.1,1934.8 971.9,1934.1 975.4,1922.2 979.0,1905.6 982.5,1881.9 986.1,1851.1 989.6,1803.7 993.2,1756.3 996.7,1697.0 999.8,1649.6 1002.7,1614.1 1005.0,1595.1 1006.9,1591.6 1009.3,1597.5 1011.7,1625.9 1014.0,1673.3 1016.9,1720.7 1019.7,1768.1 1022.8,1815.6 1026.4,1858.2 1029.9,1891.4 1033.5,1910.4 1037.0,1924.6 1039.4,1927.2 1041.8,1928.1 1043.6,1930.6 1045.3,1931.7 1048.9,1943.6 1052.4,1931.7 1054.8,1927.6 1057.2,1924.6 1060.7,1918.7 1063.1,1917.4 1065.5,1917.5 1069.0,1910.4 1073.8,1898.5 1076.1,1895.5 1078.5,1893.8 1081.4,1892.6 1083.5,1895.4 1085.6,1898.5 1089.2,1905.6 1092.7,1915.1 1096.3,1927.0 1099.9,1936.4 1103.4,1943.6 1105.8,1945.9 1108.1,1948.3 1110.1,1948.5 1112.1,1951.2 1114.1,1951.9 1121.2,1964.9 1123.6,1966.8 1125.9,1967.3 1128.3,1964.9 1130.7,1963.7 1132.6,1964.8 1134.6,1966.7 1136.6,1967.3 1138.4,1967.6 1140.1,1966.9 1141.9,1967.0 1143.7,1967.3 1145.7,1967.1 1147.7,1966.5 1149.6,1964.9 1151.4,1964.5 1153.2,1965.0 1155.0,1964.6 1156.7,1966.1 1158.7,1965.5 1160.7,1966.4 1162.7,1967.3 1164.6,1967.4 1166.6,1965.3 1168.6,1964.9 1172.1,1955.4 1174.5,1953.1 1176.9,1949.5 1178.7,1949.9 1180.4,1951.9 1184.0,1957.8 1187.6,1964.9 1191.1,1972.0 1194.7,1979.1 1197.0,1980.0 1199.4,1982.7 1201.2,1983.0 1203.0,1983.9 1204.7,1984.2 1206.5,1985.0 1208.3,1983.3 1210.1,1982.9 1211.9,1983.7 1213.6,1982.7 1215.4,1982.2 1217.2,1983.8 1219.0,1983.8 1220.7,1985.0 1222.5,1985.2 1224.3,1986.8 1226.1,1985.2 1227.9,1986.2 1229.6,1986.1 1231.4,1985.3 1233.2,1986.2 1235.0,1985.0 1236.7,1985.0 1238.5,1987.0 1240.3,1987.6 1242.1,1987.4 1243.9,1987.9 1245.6,1987.7 1247.4,1987.7 1249.2,1987.4 1251.2,1986.6 1253.1,1985.0 1255.1,1982.7 1256.9,1984.3 1258.7,1985.2 1260.4,1985.7 1262.2,1987.4" stroke="#008000" stroke-width="5.8" />
<polyline points="217.1,1964.9 218.8,1964.3 220.4,1966.6 222.0,1968.4 223.7,1969.5 225.3,1970.0 227.0,1969.2 228.6,1968.4 230.7,1966.5 232.7,1965.1 234.3,1963.0 236.0,1960.2 237.6,1959.9 239.3,1959.3 240.9,1961.0 242.5,1962.6 245.8,1969.2 249.1,1975.7 250.7,1977.2 252.4,1979.8 254.4,1981.6 256.5,1982.3 258.5,1982.9 260.6,1983.9 262.6,1983.1 264.7,1983.1 266.7,1981.4 268.8,1980.7 270.8,1980.4 272.9,1979.8 274.9,1981.1 277.0,1980.7 279.4,1981.2 281.9,1982.3 284.3,1982.8 286.8,1983.1 289.3,1983.4 291.7,1983.9 294.2,1984.9 296.6,1984.8 299.1,1985.1 301.6,1986.4 304.0,1985.6 306.5,1986.4 308.9,1988.3 311.4,1988.9 313.9,1988.2 316.3,1988.9 318.8,1988.7 321.2,1988.0 322.9,1989.7 324.5,1990.5 326.1,1989.0 327.8,1988.9 329.4,1989.2 331.1,1988.0 333.5,1986.9 336.0,1986.4 338.4,1986.9 340.9,1986.4 343.4,1986.1 345.8,1984.8 347.9,1983.1 349.9,1983.1 352.4,1984.2 354.8,1984.8 356.9,1984.8 358.9,1985.6 361.4,1986.0 363.9,1984.8 366.3,1986.2 368.8,1987.2 371.2,1988.7 373.7,1988.9 376.1,1989.6 378.6,1988.9 381.1,1990.8 383.5,1991.3 386.0,1991.7 388.4,1993.0 390.9,1993.5 393.4,1995.4 395.8,1993.8 398.3,1993.8 400.7,1992.9 403.2,1993.8 405.7,1994.3 408.1,1994.6 410.6,1993.9 413.0,1993.8 415.5,1992.1 418.0,1992.1 420.4,1991.9 422.9,1993.0 425.3,1994.4 427.8,1994.6 429.4,1995.8 431.1,1995.4 433.0,1994.2 435.0,1993.8 436.4,1993.1 438.2,1992.9 440.0,1992.8 441.9,1992.0 443.7,1991.5 445.5,1990.1 447.3,1989.8 449.1,1988.5 451.0,1988.9 452.8,1987.7 454.6,1987.0 456.4,1985.5 458.3,1984.4 460.1,1984.7 461.9,1983.7 463.7,1984.4 465.5,1983.2 467.4,1981.4 469.2,1980.0 471.0,1980.1 472.8,1979.2 474.6,1977.8 476.5,1975.5 478.3,1973.0 480.1,1971.3 481.9,1968.7 483.8,1965.0 485.6,1962.5 491.0,1953.8 496.5,1945.0 498.3,1943.3 500.1,1940.2 502.0,1938.5 503.8,1937.3 505.6,1936.3 507.4,1934.1 512.9,1925.4 514.7,1924.1 516.5,1923.1 518.4,1921.0 520.2,1918.6 522.0,1916.8 523.8,1914.4 525.6,1911.9 527.5,1908.3 529.3,1905.7 534.8,1894.8 539.1,1886.0 543.5,1872.9 547.9,1853.2 551.1,1831.4 554.4,1798.6 557.7,1754.9 561.0,1700.2 563.2,1656.5 565.4,1612.8 566.9,1590.0 568.9,1571.6 570.3,1506.0 571.6,1440.4 573.0,1375.0 575.0,1330.0 577.0,1302.0 578.5,1292.0 580.0,1330.0 581.5,1400.0 583.0,1480.0 584.3,1560.0 585.5,1600.0 587.2,1623.7 589.4,1667.4 591.6,1711.1 594.9,1754.9 599.2,1787.7 604.7,1811.7 609.1,1822.6 610.7,1824.6 612.3,1827.0 614.5,1823.3 616.7,1820.4 618.5,1817.0 620.4,1814.8 622.2,1811.7 626.6,1798.6 630.9,1776.7 634.2,1743.9 637.5,1700.2 639.7,1656.5 641.9,1612.8 643.0,1580.0 645.0,1500.0 647.0,1400.0 649.0,1320.0 650.5,1265.0 651.5,1232.0 652.2,1216.0 653.0,1232.0 654.0,1265.0 655.3,1320.0 657.2,1374.9 659.0,1440.0 660.5,1506.0 661.8,1571.6 662.6,1630.0 665.9,1667.4 668.1,1754.9 670.3,1820.4 673.6,1875.1 676.8,1907.9 680.1,1929.7 684.5,1947.2 686.7,1950.4 688.9,1953.8 691.0,1955.0 693.2,1956.0 697.6,1964.7 699.8,1966.4 702.0,1969.1 704.2,1969.9 706.3,1969.9 708.5,1971.3 710.7,1971.5 712.9,1972.7 715.1,1973.4 717.3,1973.9 719.5,1974.6 721.6,1975.6 723.8,1976.1 726.0,1976.3 728.2,1976.7 730.4,1977.2 732.6,1977.9 734.8,1977.8 736.5,1978.4 738.3,1978.8 740.0,1977.8 741.9,1976.8 743.7,1976.7 745.9,1976.9 748.1,1977.6 750.3,1978.5 752.5,1980.0 754.6,1980.6 756.8,1981.3 759.0,1981.3 761.2,1981.1 763.4,1982.0 765.6,1981.3 767.8,1981.1 769.9,1982.2 772.1,1981.3 774.3,1981.0 776.5,1981.1 778.7,1981.1 780.9,1980.5 783.1,1980.7 785.2,1981.0 787.4,1980.0 789.6,1981.1 791.8,1981.2 794.0,1981.1 796.2,1982.2 798.4,1982.3 800.5,1982.7 802.7,1982.7 804.9,1983.3 807.1,1983.9 809.3,1981.9 811.5,1982.4 813.7,1982.2 815.8,1982.8 818.0,1982.7 820.2,1983.9 822.4,1984.4 824.6,1984.2 826.8,1984.9 829.0,1985.5 831.1,1985.7 833.3,1983.5 835.5,1984.4 837.7,1983.3 839.9,1983.0 842.1,1983.7 844.3,1984.2 846.4,1984.4 848.6,1984.4 850.8,1982.8 853.0,1982.2 855.2,1983.1 857.4,1983.6 859.6,1983.8 861.7,1983.3 863.9,1984.5 866.1,1984.5 868.3,1984.4 870.5,1983.9 872.7,1981.5 874.9,1981.1 877.0,1981.2 879.2,1981.9 881.4,1981.4 883.6,1982.2 885.8,1980.8 888.0,1980.4 890.2,1980.8 892.3,1980.0 894.5,1979.1 896.7,1977.7 898.9,1976.7 901.1,1975.6 903.3,1972.8 905.5,1971.3 907.7,1970.1 909.8,1968.0 911.7,1966.1 913.5,1964.3 915.3,1962.5 917.5,1958.9 919.7,1956.0 921.9,1953.4 924.0,1951.6 926.2,1953.5 928.4,1956.0 930.6,1956.5 932.8,1954.3 935.0,1954.9 936.8,1954.8 938.6,1953.8 940.4,1953.8 942.6,1954.0 944.8,1952.6 947.0,1952.7 949.2,1953.1 951.4,1953.8 956.8,1945.0 960.0,1938.8 961.8,1936.1 963.6,1934.1 967.1,1924.6 970.7,1915.1 974.2,1898.5 977.8,1874.8 981.3,1839.3 984.9,1791.9 988.4,1744.4 992.0,1697.0 995.6,1649.6 998.4,1621.2 1000.8,1607.0 1002.7,1603.4 1005.0,1614.1 1006.9,1649.6 1009.3,1697.0 1011.7,1744.4 1014.5,1791.9 1018.1,1839.3 1021.6,1874.8 1026.4,1898.5 1031.1,1915.1 1033.5,1918.2 1035.9,1922.2 1037.8,1923.3 1039.8,1924.0 1041.8,1925.8 1044.1,1926.9 1046.5,1929.3 1050.1,1922.2 1053.6,1928.1 1056.0,1925.5 1058.4,1923.4 1060.3,1921.6 1062.3,1921.7 1064.3,1919.9 1069.0,1910.4 1073.8,1902.1 1076.1,1900.4 1078.5,1898.5 1080.9,1903.3 1084.4,1910.4 1088.0,1922.2 1091.6,1931.7 1095.1,1938.8 1099.9,1947.1 1101.8,1948.9 1103.8,1950.1 1105.8,1951.9 1107.8,1953.3 1109.7,1954.8 1111.7,1955.4 1113.7,1956.9 1115.7,1959.2 1117.6,1960.1 1119.4,1959.3 1121.2,1960.3 1123.0,1959.9 1124.7,1960.1 1126.7,1960.6 1128.7,1962.6 1130.7,1963.7 1132.4,1963.1 1134.2,1963.8 1136.0,1964.4 1137.8,1963.7 1139.6,1964.9 1141.3,1964.5 1143.1,1965.1 1144.9,1964.9 1146.7,1963.5 1148.4,1963.1 1150.2,1961.5 1152.0,1960.1 1153.8,1960.0 1155.6,1961.1 1157.3,1960.3 1159.1,1961.3 1161.5,1959.6 1163.9,1957.8 1167.4,1950.7 1169.2,1952.6 1171.0,1954.2 1173.3,1955.7 1175.7,1955.4 1177.5,1957.3 1179.3,1957.8 1182.8,1967.3 1186.4,1976.7 1188.7,1978.8 1191.1,1981.5 1193.1,1982.9 1195.1,1983.8 1197.0,1983.9 1198.8,1984.2 1200.6,1984.3 1202.4,1985.3 1204.1,1986.2 1205.9,1986.6 1207.7,1987.7 1209.5,1987.9 1211.3,1988.6 1213.0,1988.6 1214.8,1987.7 1216.6,1987.2 1218.4,1987.4 1220.1,1988.5 1221.9,1988.6 1223.7,1988.4 1225.5,1988.6 1227.3,1988.0 1229.0,1989.9 1230.8,1989.9 1232.6,1989.8 1234.4,1989.9 1236.1,1990.3 1237.9,1991.0 1239.7,1991.0 1241.5,1991.7 1243.3,1991.9 1245.0,1990.7 1246.8,1991.0 1248.6,1991.9 1250.4,1991.0 1252.1,1992.6 1253.9,1992.1 1256.0,1991.9 1258.1,1993.5 1260.1,1993.7 1262.2,1993.3" stroke="#ff0000" stroke-width="5.8" />
<polyline points="217.1,1958.0 219.6,1958.5 221.6,1959.4 223.7,1961.0 225.7,1959.5 227.8,1958.5 230.2,1957.0 232.7,1955.2 235.2,1953.8 237.6,1952.8 240.1,1952.5 242.5,1951.1 245.0,1949.9 247.5,1950.3 249.5,1948.4 251.6,1948.7 253.6,1949.7 255.7,1951.1 257.7,1951.3 259.8,1950.3 261.8,1951.5 263.9,1952.8 266.3,1952.8 268.4,1951.0 270.4,1950.3 272.5,1948.6 274.5,1948.7 276.6,1945.9 278.6,1943.8 280.7,1944.9 282.7,1946.2 284.8,1945.9 286.8,1944.6 288.9,1945.7 290.9,1945.4 293.0,1945.0 295.0,1943.0 297.5,1945.4 299.9,1947.0 302.0,1944.7 304.0,1943.0 305.7,1942.3 307.3,1940.5 309.3,1941.2 311.4,1943.0 313.9,1943.3 316.3,1943.8 318.8,1942.6 321.2,1943.8 323.4,1941.6 325.6,1941.9 327.8,1940.5 330.2,1940.7 332.7,1943.0 334.6,1943.9 336.5,1943.2 338.4,1943.0 340.5,1942.1 342.5,1939.7 345.0,1938.0 347.5,1937.2 349.9,1933.2 352.4,1930.7 354.8,1932.2 357.3,1931.5 359.8,1930.8 362.2,1929.0 364.7,1929.5 367.1,1931.5 369.2,1930.2 371.2,1929.0 373.7,1927.1 376.1,1927.4 378.2,1925.2 380.2,1924.9 381.9,1927.7 383.5,1929.0 385.6,1929.2 387.6,1930.7 389.7,1929.0 391.7,1928.2 393.8,1929.8 395.8,1929.0 397.9,1927.7 399.9,1925.7 402.0,1926.0 404.0,1926.6 406.1,1924.0 408.1,1923.3 409.8,1923.9 411.4,1922.5 413.4,1922.0 415.5,1920.8 417.5,1920.5 419.6,1921.6 421.6,1921.2 423.7,1919.2 425.6,1918.1 427.5,1917.6 429.4,1918.4 431.3,1917.0 433.1,1918.7 435.0,1918.4 436.4,1917.7 438.2,1915.9 440.0,1914.6 441.9,1912.2 443.7,1911.3 445.5,1909.7 447.3,1910.1 449.1,1907.4 451.0,1906.4 452.8,1903.5 454.6,1902.4 456.4,1902.8 458.3,1901.3 460.1,1899.0 461.9,1897.5 463.7,1894.8 465.5,1893.9 467.4,1892.0 469.2,1890.4 471.0,1888.2 472.8,1885.2 474.6,1883.8 476.5,1882.7 478.3,1879.5 480.1,1878.4 485.6,1868.5 487.4,1866.1 489.2,1864.4 491.0,1862.0 496.5,1851.0 502.0,1840.1 507.4,1831.4 512.9,1822.6 514.7,1819.9 516.5,1816.5 518.4,1813.9 523.8,1803.0 529.3,1792.0 534.8,1776.7 540.2,1761.4 545.7,1741.7 550.1,1726.4 553.3,1711.1 556.6,1689.3 559.9,1667.4 562.1,1645.6 564.3,1623.7 566.4,1601.9 567.7,1600.0 568.9,1571.6 570.3,1506.0 571.4,1445.0 573.0,1374.8 574.0,1335.7 575.1,1296.7 575.9,1273.2 576.8,1249.8 577.5,1234.1 578.9,1307.0 580.5,1340.0 582.5,1400.0 585.0,1470.0 588.0,1530.0 590.5,1570.0 591.6,1580.0 593.8,1601.9 597.0,1623.7 601.4,1645.6 606.9,1660.9 609.1,1663.4 611.3,1667.4 613.5,1670.0 615.6,1671.8 620.0,1663.1 625.5,1649.9 630.9,1632.5 635.3,1612.8 638.6,1590.9 640.8,1570.0 641.9,1506.0 645.5,1445.0 647.5,1380.0 649.0,1320.0 650.4,1265.0 651.5,1232.0 652.3,1218.0 652.9,1220.5 653.4,1226.0 653.9,1234.0 654.7,1250.0 655.7,1280.0 656.7,1320.2 658.5,1374.9 660.7,1440.4 662.9,1506.0 665.3,1571.6 667.1,1620.0 671.4,1667.4 674.6,1711.1 677.9,1754.9 681.2,1787.7 684.5,1800.8 686.3,1803.9 688.1,1806.3 689.9,1809.5 695.4,1820.4 697.2,1821.8 699.1,1825.5 700.9,1827.0 702.7,1826.6 704.5,1828.2 706.3,1829.2 708.5,1831.2 710.7,1833.6 712.9,1833.1 715.1,1834.9 717.3,1835.7 719.5,1835.6 721.6,1837.6 723.8,1836.8 725.6,1837.8 727.5,1838.6 729.3,1840.1 731.1,1839.4 732.9,1838.2 734.8,1836.8 736.5,1835.7 738.3,1835.4 740.0,1835.7 741.9,1837.9 743.7,1837.9 745.9,1840.1 747.7,1838.6 749.5,1840.0 751.4,1839.0 753.6,1836.6 755.7,1834.6 757.9,1837.0 760.1,1837.0 762.3,1839.0 764.5,1837.1 766.7,1838.2 768.9,1836.8 771.0,1838.1 773.2,1838.6 775.4,1837.9 777.6,1838.0 779.8,1840.0 782.0,1840.1 783.8,1840.5 785.6,1838.8 787.4,1839.0 789.6,1840.3 791.8,1840.7 794.0,1841.2 795.8,1841.8 797.6,1842.9 799.5,1844.5 801.6,1843.9 803.8,1842.2 806.0,1840.1 807.8,1841.7 809.7,1841.6 811.5,1842.3 813.7,1843.7 815.8,1845.6 818.0,1845.5 820.2,1843.0 822.4,1842.3 824.6,1843.8 826.8,1845.8 829.0,1848.9 831.1,1849.0 833.3,1849.4 835.5,1849.9 837.7,1851.4 839.9,1853.7 842.1,1855.4 844.3,1855.4 846.4,1853.1 848.6,1852.1 850.8,1853.7 853.0,1852.3 855.2,1853.2 857.4,1855.3 859.6,1858.7 861.4,1859.7 863.2,1861.9 865.0,1864.2 867.2,1862.7 869.4,1863.9 871.6,1863.1 873.8,1862.8 876.0,1864.4 878.1,1865.2 880.0,1867.3 881.8,1867.1 883.6,1868.5 885.8,1869.8 888.0,1871.8 890.2,1869.8 892.3,1866.3 894.5,1869.2 896.7,1871.2 898.9,1872.9 900.7,1870.7 902.6,1869.3 904.4,1867.4 906.2,1866.8 908.0,1867.8 909.8,1868.5 912.0,1867.1 914.2,1867.3 916.4,1867.4 918.6,1866.3 920.8,1866.3 923.0,1859.8 926.2,1853.2 928.4,1855.3 930.6,1857.6 932.4,1858.5 934.2,1857.9 936.1,1856.5 937.9,1857.9 939.7,1858.6 941.5,1859.8 943.4,1857.9 945.2,1857.9 947.0,1857.6 949.2,1857.2 951.4,1856.5 953.6,1854.4 955.7,1851.0 957.9,1849.4 960.1,1848.9 961.8,1851.1 963.6,1852.3 967.1,1844.0 970.7,1834.5 974.2,1825.0 977.8,1815.6 981.3,1796.6 984.9,1768.1 988.4,1725.5 992.0,1685.2 995.6,1654.4 999.1,1635.4 1002.2,1625.9 1003.9,1623.6 1006.2,1630.7 1008.6,1654.4 1011.0,1687.6 1014.0,1732.6 1016.9,1768.1 1020.4,1791.9 1024.0,1803.7 1027.6,1813.2 1031.1,1822.7 1033.5,1826.9 1035.9,1829.8 1038.2,1828.7 1040.6,1828.6 1044.1,1836.9 1046.5,1836.7 1048.9,1836.9 1051.3,1839.9 1053.6,1841.6 1056.0,1839.9 1058.4,1839.3 1060.3,1840.6 1062.3,1840.0 1064.3,1840.4 1066.7,1836.8 1069.0,1834.5 1071.4,1834.8 1073.8,1834.5 1076.1,1832.3 1078.5,1832.1 1080.3,1831.4 1082.1,1829.8 1085.6,1836.9 1089.2,1846.4 1092.7,1853.5 1097.5,1863.0 1099.9,1865.9 1102.2,1870.1 1107.0,1879.6 1109.3,1881.3 1111.7,1884.3 1114.1,1885.9 1116.4,1889.0 1118.8,1890.9 1121.2,1893.8 1123.2,1893.8 1125.1,1894.8 1127.1,1896.1 1129.1,1897.2 1131.1,1896.7 1133.0,1898.5 1135.0,1899.8 1137.0,1900.9 1139.0,1902.1 1140.9,1901.3 1142.9,1900.7 1144.9,1900.9 1146.7,1900.5 1148.4,1900.3 1150.2,1898.3 1152.0,1898.5 1154.0,1899.7 1156.0,1902.2 1157.9,1903.3 1159.9,1903.0 1161.9,1902.0 1163.9,1900.9 1165.8,1901.2 1167.8,1902.4 1169.8,1903.3 1172.1,1903.1 1174.5,1902.1 1176.9,1904.8 1179.3,1908.0 1184.0,1916.3 1186.4,1919.5 1188.7,1922.2 1191.1,1922.6 1193.5,1924.6 1195.9,1927.9 1198.2,1931.7 1200.2,1932.5 1202.2,1934.6 1204.1,1936.4 1206.5,1934.7 1208.9,1934.1 1210.9,1934.8 1212.8,1936.3 1214.8,1936.4 1216.8,1937.1 1218.8,1940.2 1220.7,1941.2 1222.7,1942.0 1224.7,1941.1 1226.7,1942.4 1228.6,1943.4 1230.6,1943.9 1232.6,1943.6 1234.6,1944.9 1236.5,1945.9 1238.5,1947.1 1240.5,1946.3 1242.5,1948.4 1244.4,1948.3 1246.2,1948.1 1248.0,1950.8 1249.8,1951.9 1251.6,1951.9 1253.5,1953.2 1255.5,1953.2 1257.5,1954.2 1259.9,1955.2 1262.2,1956.6" stroke="#8000ff" stroke-width="5.8" />
<polyline points="217.1,1983.4 219.6,1983.9 221.6,1985.7 223.7,1985.6 225.7,1983.4 227.8,1983.1 229.8,1981.2 231.9,1979.0 233.9,1978.4 236.0,1978.2 238.0,1980.4 240.1,1982.3 242.1,1984.0 244.2,1984.8 245.8,1984.4 247.5,1983.9 249.5,1986.1 251.6,1987.2 253.6,1989.1 255.7,1990.5 257.7,1989.8 259.8,1988.9 261.8,1988.6 263.9,1989.7 265.9,1987.2 268.0,1986.4 270.0,1985.0 272.0,1985.6 273.7,1984.7 275.3,1982.3 277.0,1980.9 278.6,1981.5 280.7,1981.7 282.7,1983.9 284.8,1983.5 286.8,1983.9 289.3,1984.7 291.7,1984.8 294.2,1983.8 296.6,1983.1 299.1,1982.6 301.6,1982.3 303.6,1982.3 305.7,1981.5 307.7,1983.3 309.8,1983.9 311.8,1984.4 313.9,1984.8 315.9,1983.7 318.0,1983.9 320.4,1982.5 322.9,1982.3 324.5,1983.3 326.1,1985.6 327.8,1985.6 329.4,1986.4 332.7,1980.7 335.2,1980.9 337.6,1981.5 340.1,1981.7 342.5,1979.8 345.0,1979.3 347.5,1978.2 349.9,1978.5 352.4,1979.0 354.8,1977.5 357.3,1975.7 359.8,1977.4 362.2,1979.0 364.7,1979.1 367.1,1978.2 369.2,1976.1 371.2,1975.7 372.9,1975.5 374.5,1976.6 376.6,1976.3 378.6,1977.4 380.7,1976.9 382.7,1975.7 384.8,1974.6 386.8,1974.1 389.3,1974.7 391.7,1974.9 394.2,1976.2 396.6,1975.7 399.1,1976.8 401.6,1976.6 404.0,1975.7 406.5,1974.9 408.1,1971.9 409.8,1970.0 411.4,1969.1 413.0,1967.5 415.5,1968.6 418.0,1970.0 420.0,1968.8 422.0,1967.5 424.1,1968.3 426.1,1969.2 428.6,1969.0 431.1,1967.5 433.0,1966.0 435.0,1964.3 436.4,1969.1 438.2,1966.7 440.0,1964.0 441.9,1962.5 443.7,1964.2 445.5,1964.5 447.3,1964.7 449.1,1963.7 451.0,1961.1 452.8,1959.2 454.6,1960.5 456.4,1961.1 458.3,1961.4 460.1,1959.9 461.9,1959.9 463.7,1960.3 469.2,1951.6 471.0,1951.8 472.8,1950.6 474.6,1949.4 476.5,1946.7 478.3,1944.3 480.1,1942.8 481.9,1940.2 483.8,1939.2 485.6,1936.3 491.0,1923.2 496.5,1912.2 498.3,1911.2 500.1,1908.0 502.0,1906.8 503.8,1907.6 505.6,1905.6 507.4,1905.7 509.3,1904.4 511.1,1903.1 512.9,1901.3 518.4,1888.2 520.2,1886.7 522.0,1885.0 523.8,1882.7 525.6,1880.7 527.5,1878.9 529.3,1877.3 534.8,1864.2 539.1,1851.0 541.3,1849.2 543.5,1846.7 547.9,1824.8 551.1,1807.3 554.4,1776.7 556.6,1743.9 558.8,1711.1 561.0,1678.4 563.2,1645.6 565.4,1612.8 567.4,1600.0 568.6,1571.6 570.0,1506.0 571.1,1445.0 572.8,1374.8 573.8,1335.7 574.8,1296.7 575.6,1273.2 576.5,1249.8 577.2,1234.1 577.8,1226.3 578.4,1220.5 579.0,1218.3 579.6,1220.5 580.0,1226.3 580.4,1234.1 581.0,1249.8 581.6,1273.2 582.1,1296.7 582.9,1335.7 583.6,1374.8 585.1,1445.0 587.0,1506.0 588.5,1571.6 590.5,1610.0 591.6,1623.7 593.8,1667.4 597.0,1711.1 601.4,1743.9 605.8,1763.6 608.0,1766.5 610.2,1769.1 612.4,1773.1 614.5,1775.6 616.7,1772.2 618.9,1770.2 620.7,1767.1 622.6,1764.3 624.4,1761.4 628.7,1748.3 632.0,1722.1 635.3,1689.3 638.6,1656.5 640.8,1623.7 642.5,1600.0 643.4,1571.6 645.1,1506.0 646.7,1440.4 648.0,1374.9 649.1,1320.2 650.0,1280.0 650.7,1250.0 651.3,1234.0 651.8,1226.0 652.2,1220.5 652.6,1218.3 653.1,1220.5 653.6,1226.0 654.1,1234.0 654.9,1250.0 655.9,1280.0 656.9,1320.2 658.7,1374.9 660.9,1440.4 663.1,1506.0 665.5,1571.6 667.3,1620.0 669.2,1667.4 671.4,1733.0 674.6,1787.7 677.9,1831.4 681.2,1864.2 684.5,1886.0 687.8,1894.8 690.0,1897.5 692.1,1899.1 696.5,1907.9 700.9,1916.6 703.1,1916.9 705.2,1918.8 707.1,1918.6 708.9,1917.8 710.7,1916.6 712.9,1915.4 715.1,1917.1 717.3,1915.5 719.5,1917.6 721.6,1918.5 723.8,1918.8 726.0,1919.6 728.2,1917.8 730.4,1917.7 732.3,1917.8 734.2,1919.1 736.2,1919.7 738.1,1919.6 740.0,1919.9 741.9,1919.4 743.7,1919.9 745.9,1919.9 748.1,1921.6 750.3,1921.2 752.5,1922.1 754.6,1920.6 756.8,1922.2 759.0,1921.0 761.2,1922.5 763.4,1923.6 765.6,1924.3 767.8,1923.0 769.9,1922.7 772.1,1922.1 774.3,1920.5 776.5,1919.9 778.7,1920.1 780.9,1921.5 783.1,1923.2 785.2,1922.0 787.4,1921.9 789.6,1922.1 791.8,1923.4 794.0,1924.4 796.2,1924.3 798.4,1922.5 800.5,1921.0 802.2,1920.7 803.8,1919.9 807.1,1925.4 809.3,1925.7 811.5,1925.3 813.7,1926.4 815.8,1927.8 818.0,1926.3 820.2,1927.5 822.4,1928.3 824.6,1927.2 826.8,1927.5 829.0,1927.3 831.1,1930.0 833.3,1929.7 835.5,1929.6 837.7,1930.1 839.9,1929.7 842.1,1930.9 844.3,1931.9 846.1,1930.3 847.9,1927.8 849.7,1926.4 851.5,1927.2 853.4,1928.2 855.2,1929.7 857.4,1931.0 859.6,1931.9 861.7,1931.9 863.9,1932.0 866.1,1933.2 868.3,1934.1 870.5,1933.3 872.7,1935.3 874.9,1935.2 877.0,1935.1 879.2,1934.1 881.4,1937.0 883.6,1938.5 885.4,1938.7 887.2,1937.4 889.1,1936.3 890.9,1935.6 892.7,1935.2 894.5,1934.1 896.7,1933.2 898.9,1932.0 901.1,1930.8 903.3,1929.4 905.5,1929.5 907.7,1928.6 909.8,1928.3 912.0,1925.8 914.2,1925.4 916.4,1923.3 918.6,1921.0 920.8,1919.4 923.0,1916.6 925.1,1914.5 927.3,1914.4 929.5,1912.5 931.7,1912.2 933.9,1915.5 936.1,1918.8 938.3,1915.1 940.4,1912.2 942.6,1910.7 944.8,1907.9 947.0,1909.0 949.2,1910.1 951.4,1907.4 953.6,1905.7 955.7,1906.3 957.9,1906.8 959.8,1908.6 961.7,1910.0 963.6,1910.4 965.3,1908.1 967.1,1905.6 970.7,1893.8 974.2,1877.2 977.8,1851.1 981.3,1815.6 984.9,1780.0 988.4,1732.6 992.0,1685.2 995.6,1649.6 999.1,1625.9 1002.2,1614.1 1003.9,1611.7 1006.2,1621.2 1008.6,1649.6 1011.0,1685.2 1014.0,1732.6 1016.9,1780.0 1020.4,1820.3 1024.0,1848.7 1027.6,1867.7 1031.1,1879.6 1033.5,1882.6 1035.9,1884.3 1038.2,1886.2 1040.6,1889.0 1043.0,1892.3 1045.3,1896.1 1047.7,1897.9 1050.1,1898.5 1052.4,1894.4 1054.8,1891.4 1057.2,1894.3 1059.6,1896.1 1063.1,1884.3 1064.9,1881.2 1066.7,1879.6 1068.4,1881.7 1070.2,1884.3 1073.8,1872.4 1076.1,1874.1 1078.5,1873.6 1080.9,1869.6 1083.3,1866.5 1085.6,1879.6 1089.2,1889.0 1092.7,1896.1 1096.3,1903.3 1099.9,1911.6 1102.2,1914.2 1104.6,1917.5 1108.1,1928.1 1110.5,1931.2 1112.9,1932.9 1114.9,1934.8 1116.8,1935.4 1118.8,1937.6 1120.8,1936.8 1122.8,1935.6 1124.7,1935.3 1126.7,1936.7 1128.7,1936.7 1130.7,1938.8 1133.0,1940.2 1135.4,1941.2 1137.8,1944.9 1140.1,1947.1 1141.9,1946.5 1143.7,1944.7 1145.5,1944.0 1147.3,1942.4 1149.2,1942.6 1151.2,1944.3 1153.2,1943.6 1155.2,1942.2 1157.1,1940.0 1159.1,1938.8 1161.5,1939.3 1163.9,1937.6 1167.4,1931.7 1169.2,1932.8 1171.0,1935.3 1173.3,1932.6 1175.7,1931.7 1177.5,1934.6 1179.3,1936.4 1182.8,1945.9 1186.4,1953.0 1188.7,1955.7 1191.1,1957.8 1193.1,1957.5 1195.1,1958.4 1197.0,1960.1 1198.8,1960.6 1200.6,1962.0 1202.4,1964.4 1204.1,1964.9 1206.5,1965.4 1208.9,1963.7 1210.9,1965.8 1212.8,1968.3 1214.8,1969.6 1216.8,1968.4 1218.8,1966.2 1220.7,1964.9 1222.5,1966.8 1224.3,1966.5 1226.1,1967.1 1227.9,1968.4 1229.6,1969.4 1231.4,1968.5 1233.2,1969.6 1235.0,1969.6 1236.7,1969.8 1238.5,1969.6 1240.3,1968.6 1242.1,1968.4 1243.9,1970.1 1245.6,1970.5 1247.4,1970.5 1249.2,1972.0 1251.0,1972.2 1252.7,1970.1 1254.5,1969.3 1256.3,1969.6 1258.3,1970.4 1260.2,1970.3 1262.2,1969.6" stroke="#800080" stroke-width="5.8" />
</g>
<line x1="209.55" y1="1214.75" x2="209.55" y2="2002.85" stroke="#000" stroke-width="5.9"/>
<line x1="193.80" y1="1999.90" x2="209.55" y2="1999.90" stroke="#000" stroke-width="5.9"/>
<text x="183.2" y="2012.25" font-size="42" text-anchor="end" font-family="Liberation Sans, sans-serif" font-weight="bold">0.0</text>
<line x1="201.68" y1="1921.68" x2="209.55" y2="1921.68" stroke="#000" stroke-width="5.9"/>
<line x1="193.80" y1="1843.46" x2="209.55" y2="1843.46" stroke="#000" stroke-width="5.9"/>
<text x="183.2" y="1855.81" font-size="42" text-anchor="end" font-family="Liberation Sans, sans-serif" font-weight="bold">0.2</text>
<line x1="201.68" y1="1765.24" x2="209.55" y2="1765.24" stroke="#000" stroke-width="5.9"/>
<line x1="193.80" y1="1687.02" x2="209.55" y2="1687.02" stroke="#000" stroke-width="5.9"/>
<text x="183.2" y="1699.37" font-size="42" text-anchor="end" font-family="Liberation Sans, sans-serif" font-weight="bold">0.4</text>
<line x1="201.68" y1="1608.80" x2="209.55" y2="1608.80" stroke="#000" stroke-width="5.9"/>
<line x1="193.80" y1="1530.58" x2="209.55" y2="1530.58" stroke="#000" stroke-width="5.9"/>
<text x="183.2" y="1542.93" font-size="42" text-anchor="end" font-family="Liberation Sans, sans-serif" font-weight="bold">0.6</text>
<line x1="201.68" y1="1452.36" x2="209.55" y2="1452.36" stroke="#000" stroke-width="5.9"/>
<line x1="193.80" y1="1374.14" x2="209.55" y2="1374.14" stroke="#000" stroke-width="5.9"/>
<text x="183.2" y="1386.49" font-size="42" text-anchor="end" font-family="Liberation Sans, sans-serif" font-weight="bold">0.8</text>
<line x1="201.68" y1="1295.92" x2="209.55" y2="1295.92" stroke="#000" stroke-width="5.9"/>
<line x1="193.80" y1="1217.70" x2="209.55" y2="1217.70" stroke="#000" stroke-width="5.9"/>
<text x="183.2" y="1230.05" font-size="42" text-anchor="end" font-family="Liberation Sans, sans-serif" font-weight="bold">1.0</text>
<text transform="translate(62,1611.75) rotate(-90)" font-size="41.8" text-anchor="middle" font-family="Liberation Sans, sans-serif" font-weight="bold">Normalized intensity (a.u.)</text>
<text x="548.6" y="2136.6" font-size="41.5" font-family="Liberation Sans, sans-serif" font-weight="bold">Raman shiftt (cm<tspan dx="1.5" dy="-19.2" font-size="21.5">-1</tspan><tspan dx="2.5" dy="19.2" font-size="41.5">)</tspan></text>
<text x="299.9" y="1381" font-size="41.5" font-family="Liberation Sans, sans-serif" font-weight="bold">(b)</text>
<rect x="1067.8" y="1130.6" width="362.8" height="422.2" fill="#fff" stroke="#000" stroke-width="1.3"/>
<line x1="1084.2" y1="1160.2" x2="1177" y2="1160.2" stroke="#000000" stroke-width="6"/>
<text x="1187.2" y="1174.3" font-size="41.8" font-family="Liberation Sans, sans-serif" font-weight="bold">MXCS</text>
<line x1="1084.2" y1="1213" x2="1177" y2="1213" stroke="#00ffff" stroke-width="6"/>
<text x="1187.2" y="1227.1" font-size="41.8" font-family="Liberation Sans, sans-serif" font-weight="bold">FC</text>
<line x1="1084.2" y1="1266" x2="1177" y2="1266" stroke="#0000ff" stroke-width="6"/>
<text x="1187.2" y="1280.1" font-size="41.8" font-family="Liberation Sans, sans-serif" font-weight="bold">MXCBCCu</text>
<line x1="1084.2" y1="1318.5" x2="1177" y2="1318.5" stroke="#ff00ff" stroke-width="6"/>
<text x="1187.2" y="1332.6" font-size="41.8" font-family="Liberation Sans, sans-serif" font-weight="bold">MXCBCCo</text>
<line x1="1084.2" y1="1371.2" x2="1177" y2="1371.2" stroke="#008000" stroke-width="6"/>
<text x="1187.2" y="1385.3" font-size="41.8" font-family="Liberation Sans, sans-serif" font-weight="bold">MXCBCNi</text>
<line x1="1084.2" y1="1424" x2="1177" y2="1424" stroke="#ff0000" stroke-width="6"/>
<text x="1187.2" y="1438.1" font-size="41.8" font-family="Liberation Sans, sans-serif" font-weight="bold">MXCBCFe</text>
<line x1="1084.2" y1="1476.7" x2="1177" y2="1476.7" stroke="#8000ff" stroke-width="6"/>
<text x="1187.2" y="1490.8" font-size="41.8" font-family="Liberation Sans, sans-serif" font-weight="bold">MXCBCFeO</text>
<line x1="1084.2" y1="1529.3" x2="1177" y2="1529.3" stroke="#800080" stroke-width="6"/>
<text x="1187.2" y="1543.3999999999999" font-size="41.8" font-family="Liberation Sans, sans-serif" font-weight="bold">MXCB</text>
<text transform="translate(655.7,2275.4) scale(0.9,1)" font-size="86.5" font-family="Liberation Serif, serif">(</text><text transform="translate(682.5,2276.2) scale(1.04,1)" font-size="88" font-weight="bold" font-family="Liberation Serif, serif">b</text><text transform="translate(734.3,2275.4) scale(0.9,1)" font-size="86.5" font-family="Liberation Serif, serif">)</text>
</svg></body></html>
